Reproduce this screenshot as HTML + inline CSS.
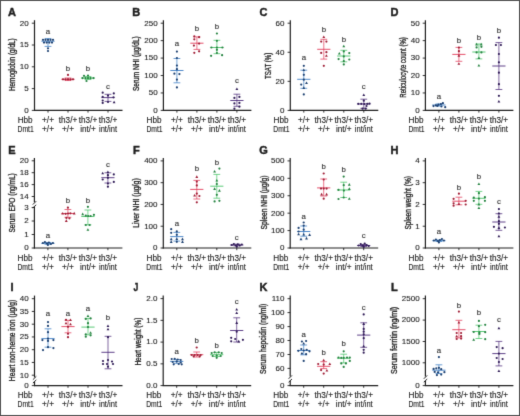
<!DOCTYPE html>
<html><head><meta charset="utf-8"><style>
html,body{margin:0;padding:0;background:#fff;}
svg{display:block;}
text{font-family:"Liberation Sans", sans-serif;fill:#1e1e1e;stroke:#1e1e1e;}
</style></head><body>
<svg width="520" height="416" viewBox="0 0 520 416">
<defs><filter id="bl" x="0" y="0" width="520" height="416" filterUnits="userSpaceOnUse" color-interpolation-filters="sRGB"><feConvolveMatrix order="3" kernelMatrix="0.01134 0.08382 0.01134 0.08382 0.61935 0.08382 0.01134 0.08382 0.01134" edgeMode="duplicate"/></filter></defs>
<g filter="url(#bl)">
<rect width="520" height="416" fill="#fff"/>
<rect x="0.5" y="0.5" width="519" height="415" fill="none" stroke="#505050" stroke-width="1"/>
<text x="12.00" y="15.60" font-size="11.0" text-anchor="middle" font-weight="bold" stroke-width="0.45" fill="#111" stroke="#111">A</text>
<line x1="34.50" y1="20.20" x2="34.50" y2="110.90" stroke="#1e1e1e" stroke-width="1.2"/>
<line x1="33.90" y1="110.40" x2="122.50" y2="110.40" stroke="#1e1e1e" stroke-width="1.2"/>
<line x1="31.80" y1="23.20" x2="34.50" y2="23.20" stroke="#1e1e1e" stroke-width="0.9"/>
<text x="28.70" y="25.55" font-size="8.0" text-anchor="end" font-weight="normal" stroke-width="0.12" >20</text>
<line x1="31.80" y1="45.00" x2="34.50" y2="45.00" stroke="#1e1e1e" stroke-width="0.9"/>
<text x="28.70" y="47.35" font-size="8.0" text-anchor="end" font-weight="normal" stroke-width="0.12" >15</text>
<line x1="31.80" y1="66.80" x2="34.50" y2="66.80" stroke="#1e1e1e" stroke-width="0.9"/>
<text x="28.70" y="69.15" font-size="8.0" text-anchor="end" font-weight="normal" stroke-width="0.12" >10</text>
<line x1="31.80" y1="88.60" x2="34.50" y2="88.60" stroke="#1e1e1e" stroke-width="0.9"/>
<text x="28.70" y="90.95" font-size="8.0" text-anchor="end" font-weight="normal" stroke-width="0.12" >5</text>
<line x1="31.80" y1="110.40" x2="34.50" y2="110.40" stroke="#1e1e1e" stroke-width="0.9"/>
<text x="28.70" y="112.75" font-size="8.0" text-anchor="end" font-weight="normal" stroke-width="0.12" >0</text>
<line x1="48.00" y1="110.40" x2="48.00" y2="112.60" stroke="#1e1e1e" stroke-width="0.9"/>
<line x1="68.00" y1="110.40" x2="68.00" y2="112.60" stroke="#1e1e1e" stroke-width="0.9"/>
<line x1="88.00" y1="110.40" x2="88.00" y2="112.60" stroke="#1e1e1e" stroke-width="0.9"/>
<line x1="108.00" y1="110.40" x2="108.00" y2="112.60" stroke="#1e1e1e" stroke-width="0.9"/>
<text x="32.70" y="123.00" font-size="8.2" text-anchor="end" font-weight="normal" stroke-width="0.12" >Hbb</text>
<text x="33.70" y="132.10" font-size="8.2" text-anchor="end" font-weight="normal" stroke-width="0.12" textLength="16.2" lengthAdjust="spacingAndGlyphs">Dmt1</text>
<text x="48.00" y="123.00" font-size="8.2" text-anchor="middle" font-weight="normal" stroke-width="0.12" >+/+</text>
<text x="48.00" y="132.10" font-size="8.2" text-anchor="middle" font-weight="normal" stroke-width="0.12" >+/+</text>
<text x="68.00" y="123.00" font-size="8.2" text-anchor="middle" font-weight="normal" stroke-width="0.12" >th3/+</text>
<text x="68.00" y="132.10" font-size="8.2" text-anchor="middle" font-weight="normal" stroke-width="0.12" >+/+</text>
<text x="88.00" y="123.00" font-size="8.2" text-anchor="middle" font-weight="normal" stroke-width="0.12" >th3/+</text>
<text x="88.00" y="132.10" font-size="8.2" text-anchor="middle" font-weight="normal" stroke-width="0.12" >int/+</text>
<text x="108.00" y="123.00" font-size="8.2" text-anchor="middle" font-weight="normal" stroke-width="0.12" >th3/+</text>
<text x="108.00" y="132.10" font-size="8.2" text-anchor="middle" font-weight="normal" stroke-width="0.12" textLength="18" lengthAdjust="spacingAndGlyphs">int/int</text>
<text x="0" y="0" font-size="8.2" text-anchor="middle" textLength="52.8" lengthAdjust="spacingAndGlyphs" stroke="#1c1c1c" stroke-width="0.32" transform="translate(15.05,64.70) rotate(-90)">Hemoglobin (g/dL)</text>
<text x="48.00" y="34.25" font-size="7.8" text-anchor="middle" font-weight="normal" stroke-width="0.15" style="fill:#333;stroke:#333">a</text>
<line x1="48.00" y1="38.60" x2="48.00" y2="46.40" stroke="#3a7cc4" stroke-width="0.7"/>
<line x1="44.60" y1="38.60" x2="51.40" y2="38.60" stroke="#3a7cc4" stroke-width="0.75"/>
<line x1="44.60" y1="46.40" x2="51.40" y2="46.40" stroke="#3a7cc4" stroke-width="0.75"/>
<line x1="41.40" y1="41.20" x2="54.60" y2="41.20" stroke="#3a7cc4" stroke-width="0.9"/>
<circle cx="43.00" cy="39.80" r="1.1" fill="#1b3f70"/>
<circle cx="45.50" cy="39.80" r="1.1" fill="#1b3f70"/>
<circle cx="48.00" cy="39.80" r="1.1" fill="#1b3f70"/>
<circle cx="50.50" cy="39.80" r="1.1" fill="#1b3f70"/>
<circle cx="53.00" cy="39.80" r="1.1" fill="#1b3f70"/>
<circle cx="44.00" cy="42.60" r="1.1" fill="#1b3f70"/>
<circle cx="46.70" cy="42.60" r="1.1" fill="#1b3f70"/>
<circle cx="49.30" cy="42.60" r="1.1" fill="#1b3f70"/>
<circle cx="52.00" cy="42.60" r="1.1" fill="#1b3f70"/>
<circle cx="48.00" cy="48.30" r="1.1" fill="#1b3f70"/>
<circle cx="48.00" cy="51.00" r="1.1" fill="#1b3f70"/>
<text x="68.00" y="71.00" font-size="7.8" text-anchor="middle" font-weight="normal" stroke-width="0.15" style="fill:#333;stroke:#333">b</text>
<line x1="68.00" y1="78.00" x2="68.00" y2="80.50" stroke="#e23a58" stroke-width="0.7"/>
<line x1="64.60" y1="78.00" x2="71.40" y2="78.00" stroke="#e23a58" stroke-width="0.75"/>
<line x1="64.60" y1="80.50" x2="71.40" y2="80.50" stroke="#e23a58" stroke-width="0.75"/>
<line x1="61.40" y1="79.30" x2="74.60" y2="79.30" stroke="#e23a58" stroke-width="0.9"/>
<circle cx="68.00" cy="74.90" r="1.1" fill="#a01c34"/>
<circle cx="63.00" cy="79.30" r="1.1" fill="#a01c34"/>
<circle cx="65.50" cy="79.30" r="1.1" fill="#a01c34"/>
<circle cx="68.00" cy="79.30" r="1.1" fill="#a01c34"/>
<circle cx="70.50" cy="79.30" r="1.1" fill="#a01c34"/>
<circle cx="73.00" cy="79.30" r="1.1" fill="#a01c34"/>
<text x="88.00" y="71.00" font-size="7.8" text-anchor="middle" font-weight="normal" stroke-width="0.15" style="fill:#333;stroke:#333">b</text>
<line x1="88.00" y1="76.50" x2="88.00" y2="79.50" stroke="#46c466" stroke-width="0.7"/>
<line x1="84.60" y1="76.50" x2="91.40" y2="76.50" stroke="#46c466" stroke-width="0.75"/>
<line x1="84.60" y1="79.50" x2="91.40" y2="79.50" stroke="#46c466" stroke-width="0.75"/>
<line x1="81.40" y1="78.10" x2="94.60" y2="78.10" stroke="#46c466" stroke-width="0.9"/>
<circle cx="84.00" cy="75.80" r="1.1" fill="#23823f"/>
<circle cx="88.00" cy="75.50" r="1.1" fill="#23823f"/>
<circle cx="82.50" cy="78.10" r="1.1" fill="#23823f"/>
<circle cx="85.50" cy="78.10" r="1.1" fill="#23823f"/>
<circle cx="88.00" cy="78.10" r="1.1" fill="#23823f"/>
<circle cx="90.50" cy="78.10" r="1.1" fill="#23823f"/>
<circle cx="93.50" cy="78.10" r="1.1" fill="#23823f"/>
<circle cx="86.50" cy="81.00" r="1.1" fill="#23823f"/>
<text x="108.00" y="88.85" font-size="7.8" text-anchor="middle" font-weight="normal" stroke-width="0.15" style="fill:#333;stroke:#333">c</text>
<line x1="108.00" y1="94.30" x2="108.00" y2="101.40" stroke="#4c2a7a" stroke-width="0.7"/>
<line x1="104.60" y1="94.30" x2="111.40" y2="94.30" stroke="#4c2a7a" stroke-width="0.75"/>
<line x1="104.60" y1="101.40" x2="111.40" y2="101.40" stroke="#4c2a7a" stroke-width="0.75"/>
<line x1="101.40" y1="97.60" x2="114.60" y2="97.60" stroke="#4c2a7a" stroke-width="0.9"/>
<circle cx="102.70" cy="92.70" r="1.1" fill="#2e1a55"/>
<circle cx="113.80" cy="93.40" r="1.1" fill="#2e1a55"/>
<circle cx="108.00" cy="95.60" r="1.1" fill="#2e1a55"/>
<circle cx="102.70" cy="96.90" r="1.1" fill="#2e1a55"/>
<circle cx="113.50" cy="97.30" r="1.1" fill="#2e1a55"/>
<circle cx="102.70" cy="100.50" r="1.1" fill="#2e1a55"/>
<circle cx="108.00" cy="102.00" r="1.1" fill="#2e1a55"/>
<circle cx="102.70" cy="102.90" r="1.1" fill="#2e1a55"/>
<path d="M114.10 100.70L115.52 103.33L112.67 103.33Z" fill="#2e1a55"/>
<text x="136.30" y="15.60" font-size="11.0" text-anchor="middle" font-weight="bold" stroke-width="0.45" fill="#111" stroke="#111">B</text>
<line x1="163.40" y1="20.20" x2="163.40" y2="110.90" stroke="#1e1e1e" stroke-width="1.2"/>
<line x1="162.80" y1="110.40" x2="251.40" y2="110.40" stroke="#1e1e1e" stroke-width="1.2"/>
<line x1="160.70" y1="23.20" x2="163.40" y2="23.20" stroke="#1e1e1e" stroke-width="0.9"/>
<text x="157.60" y="25.55" font-size="8.0" text-anchor="end" font-weight="normal" stroke-width="0.12" >250</text>
<line x1="160.70" y1="40.64" x2="163.40" y2="40.64" stroke="#1e1e1e" stroke-width="0.9"/>
<text x="157.60" y="42.99" font-size="8.0" text-anchor="end" font-weight="normal" stroke-width="0.12" >200</text>
<line x1="160.70" y1="58.08" x2="163.40" y2="58.08" stroke="#1e1e1e" stroke-width="0.9"/>
<text x="157.60" y="60.43" font-size="8.0" text-anchor="end" font-weight="normal" stroke-width="0.12" >150</text>
<line x1="160.70" y1="75.52" x2="163.40" y2="75.52" stroke="#1e1e1e" stroke-width="0.9"/>
<text x="157.60" y="77.87" font-size="8.0" text-anchor="end" font-weight="normal" stroke-width="0.12" >100</text>
<line x1="160.70" y1="92.96" x2="163.40" y2="92.96" stroke="#1e1e1e" stroke-width="0.9"/>
<text x="157.60" y="95.31" font-size="8.0" text-anchor="end" font-weight="normal" stroke-width="0.12" >50</text>
<line x1="160.70" y1="110.40" x2="163.40" y2="110.40" stroke="#1e1e1e" stroke-width="0.9"/>
<text x="157.60" y="112.75" font-size="8.0" text-anchor="end" font-weight="normal" stroke-width="0.12" >0</text>
<line x1="176.90" y1="110.40" x2="176.90" y2="112.60" stroke="#1e1e1e" stroke-width="0.9"/>
<line x1="196.90" y1="110.40" x2="196.90" y2="112.60" stroke="#1e1e1e" stroke-width="0.9"/>
<line x1="216.90" y1="110.40" x2="216.90" y2="112.60" stroke="#1e1e1e" stroke-width="0.9"/>
<line x1="236.90" y1="110.40" x2="236.90" y2="112.60" stroke="#1e1e1e" stroke-width="0.9"/>
<text x="161.60" y="123.00" font-size="8.2" text-anchor="end" font-weight="normal" stroke-width="0.12" >Hbb</text>
<text x="162.60" y="132.10" font-size="8.2" text-anchor="end" font-weight="normal" stroke-width="0.12" textLength="16.2" lengthAdjust="spacingAndGlyphs">Dmt1</text>
<text x="176.90" y="123.00" font-size="8.2" text-anchor="middle" font-weight="normal" stroke-width="0.12" >+/+</text>
<text x="176.90" y="132.10" font-size="8.2" text-anchor="middle" font-weight="normal" stroke-width="0.12" >+/+</text>
<text x="196.90" y="123.00" font-size="8.2" text-anchor="middle" font-weight="normal" stroke-width="0.12" >th3/+</text>
<text x="196.90" y="132.10" font-size="8.2" text-anchor="middle" font-weight="normal" stroke-width="0.12" >+/+</text>
<text x="216.90" y="123.00" font-size="8.2" text-anchor="middle" font-weight="normal" stroke-width="0.12" >th3/+</text>
<text x="216.90" y="132.10" font-size="8.2" text-anchor="middle" font-weight="normal" stroke-width="0.12" >int/+</text>
<text x="236.90" y="123.00" font-size="8.2" text-anchor="middle" font-weight="normal" stroke-width="0.12" >th3/+</text>
<text x="236.90" y="132.10" font-size="8.2" text-anchor="middle" font-weight="normal" stroke-width="0.12" textLength="18" lengthAdjust="spacingAndGlyphs">int/int</text>
<text x="0" y="0" font-size="8.2" text-anchor="middle" textLength="54.8" lengthAdjust="spacingAndGlyphs" stroke="#1c1c1c" stroke-width="0.32" transform="translate(138.80,63.65) rotate(-90)">Serum NHI (µg/dL)</text>
<text x="176.90" y="46.45" font-size="7.8" text-anchor="middle" font-weight="normal" stroke-width="0.15" style="fill:#333;stroke:#333">a</text>
<line x1="176.90" y1="58.50" x2="176.90" y2="82.80" stroke="#3a7cc4" stroke-width="0.7"/>
<line x1="173.50" y1="58.50" x2="180.30" y2="58.50" stroke="#3a7cc4" stroke-width="0.75"/>
<line x1="173.50" y1="82.80" x2="180.30" y2="82.80" stroke="#3a7cc4" stroke-width="0.75"/>
<line x1="170.30" y1="70.50" x2="183.50" y2="70.50" stroke="#3a7cc4" stroke-width="0.9"/>
<circle cx="176.90" cy="51.60" r="1.1" fill="#1b3f70"/>
<circle cx="176.90" cy="58.00" r="1.1" fill="#1b3f70"/>
<circle cx="176.90" cy="65.50" r="1.1" fill="#1b3f70"/>
<circle cx="176.90" cy="69.20" r="1.1" fill="#1b3f70"/>
<circle cx="174.40" cy="73.70" r="1.1" fill="#1b3f70"/>
<circle cx="179.40" cy="74.10" r="1.1" fill="#1b3f70"/>
<circle cx="176.90" cy="79.60" r="1.1" fill="#1b3f70"/>
<circle cx="176.90" cy="87.40" r="1.1" fill="#1b3f70"/>
<text x="196.90" y="31.40" font-size="7.8" text-anchor="middle" font-weight="normal" stroke-width="0.15" style="fill:#333;stroke:#333">b</text>
<line x1="196.90" y1="36.90" x2="196.90" y2="49.40" stroke="#e23a58" stroke-width="0.7"/>
<line x1="193.50" y1="36.90" x2="200.30" y2="36.90" stroke="#e23a58" stroke-width="0.75"/>
<line x1="193.50" y1="49.40" x2="200.30" y2="49.40" stroke="#e23a58" stroke-width="0.75"/>
<line x1="190.30" y1="43.20" x2="203.50" y2="43.20" stroke="#e23a58" stroke-width="0.9"/>
<circle cx="194.30" cy="36.40" r="1.1" fill="#a01c34"/>
<circle cx="199.10" cy="37.20" r="1.1" fill="#a01c34"/>
<circle cx="194.30" cy="39.30" r="1.1" fill="#a01c34"/>
<circle cx="199.10" cy="43.60" r="1.1" fill="#a01c34"/>
<circle cx="193.90" cy="45.60" r="1.1" fill="#a01c34"/>
<circle cx="194.30" cy="52.80" r="1.1" fill="#a01c34"/>
<circle cx="199.10" cy="51.30" r="1.1" fill="#a01c34"/>
<text x="216.90" y="29.00" font-size="7.8" text-anchor="middle" font-weight="normal" stroke-width="0.15" style="fill:#333;stroke:#333">b</text>
<line x1="216.90" y1="40.30" x2="216.90" y2="53.70" stroke="#46c466" stroke-width="0.7"/>
<line x1="213.50" y1="40.30" x2="220.30" y2="40.30" stroke="#46c466" stroke-width="0.75"/>
<line x1="213.50" y1="53.70" x2="220.30" y2="53.70" stroke="#46c466" stroke-width="0.75"/>
<line x1="210.30" y1="47.50" x2="223.50" y2="47.50" stroke="#46c466" stroke-width="0.9"/>
<circle cx="216.90" cy="33.50" r="1.1" fill="#23823f"/>
<circle cx="216.90" cy="40.80" r="1.1" fill="#23823f"/>
<circle cx="211.40" cy="47.50" r="1.1" fill="#23823f"/>
<circle cx="216.90" cy="47.50" r="1.1" fill="#23823f"/>
<circle cx="222.40" cy="47.50" r="1.1" fill="#23823f"/>
<circle cx="216.90" cy="49.80" r="1.1" fill="#23823f"/>
<circle cx="216.90" cy="53.00" r="1.1" fill="#23823f"/>
<circle cx="211.10" cy="55.80" r="1.1" fill="#23823f"/>
<circle cx="222.10" cy="55.20" r="1.1" fill="#23823f"/>
<text x="236.90" y="83.45" font-size="7.8" text-anchor="middle" font-weight="normal" stroke-width="0.15" style="fill:#333;stroke:#333">c</text>
<line x1="236.90" y1="94.20" x2="236.90" y2="106.30" stroke="#4c2a7a" stroke-width="0.7"/>
<line x1="233.50" y1="94.20" x2="240.30" y2="94.20" stroke="#4c2a7a" stroke-width="0.75"/>
<line x1="233.50" y1="106.30" x2="240.30" y2="106.30" stroke="#4c2a7a" stroke-width="0.75"/>
<line x1="230.30" y1="100.50" x2="243.50" y2="100.50" stroke="#4c2a7a" stroke-width="0.9"/>
<path d="M236.90 87.40L238.33 90.03L235.47 90.03Z" fill="#2e1a55"/>
<circle cx="234.40" cy="97.90" r="1.1" fill="#2e1a55"/>
<circle cx="239.40" cy="96.90" r="1.1" fill="#2e1a55"/>
<circle cx="234.40" cy="103.40" r="1.1" fill="#2e1a55"/>
<circle cx="239.40" cy="102.90" r="1.1" fill="#2e1a55"/>
<circle cx="239.40" cy="106.70" r="1.1" fill="#2e1a55"/>
<circle cx="234.40" cy="108.70" r="1.1" fill="#2e1a55"/>
<text x="263.50" y="15.60" font-size="11.0" text-anchor="middle" font-weight="bold" stroke-width="0.45" fill="#111" stroke="#111">C</text>
<line x1="290.30" y1="20.20" x2="290.30" y2="110.90" stroke="#1e1e1e" stroke-width="1.2"/>
<line x1="289.70" y1="110.40" x2="378.30" y2="110.40" stroke="#1e1e1e" stroke-width="1.2"/>
<line x1="287.60" y1="23.20" x2="290.30" y2="23.20" stroke="#1e1e1e" stroke-width="0.9"/>
<text x="284.50" y="25.55" font-size="8.0" text-anchor="end" font-weight="normal" stroke-width="0.12" >60</text>
<line x1="287.60" y1="52.27" x2="290.30" y2="52.27" stroke="#1e1e1e" stroke-width="0.9"/>
<text x="284.50" y="54.62" font-size="8.0" text-anchor="end" font-weight="normal" stroke-width="0.12" >40</text>
<line x1="287.60" y1="81.33" x2="290.30" y2="81.33" stroke="#1e1e1e" stroke-width="0.9"/>
<text x="284.50" y="83.68" font-size="8.0" text-anchor="end" font-weight="normal" stroke-width="0.12" >20</text>
<line x1="287.60" y1="110.40" x2="290.30" y2="110.40" stroke="#1e1e1e" stroke-width="0.9"/>
<text x="284.50" y="112.75" font-size="8.0" text-anchor="end" font-weight="normal" stroke-width="0.12" >0</text>
<line x1="303.80" y1="110.40" x2="303.80" y2="112.60" stroke="#1e1e1e" stroke-width="0.9"/>
<line x1="323.80" y1="110.40" x2="323.80" y2="112.60" stroke="#1e1e1e" stroke-width="0.9"/>
<line x1="343.80" y1="110.40" x2="343.80" y2="112.60" stroke="#1e1e1e" stroke-width="0.9"/>
<line x1="363.80" y1="110.40" x2="363.80" y2="112.60" stroke="#1e1e1e" stroke-width="0.9"/>
<text x="288.50" y="123.00" font-size="8.2" text-anchor="end" font-weight="normal" stroke-width="0.12" >Hbb</text>
<text x="289.50" y="132.10" font-size="8.2" text-anchor="end" font-weight="normal" stroke-width="0.12" textLength="16.2" lengthAdjust="spacingAndGlyphs">Dmt1</text>
<text x="303.80" y="123.00" font-size="8.2" text-anchor="middle" font-weight="normal" stroke-width="0.12" >+/+</text>
<text x="303.80" y="132.10" font-size="8.2" text-anchor="middle" font-weight="normal" stroke-width="0.12" >+/+</text>
<text x="323.80" y="123.00" font-size="8.2" text-anchor="middle" font-weight="normal" stroke-width="0.12" >th3/+</text>
<text x="323.80" y="132.10" font-size="8.2" text-anchor="middle" font-weight="normal" stroke-width="0.12" >+/+</text>
<text x="343.80" y="123.00" font-size="8.2" text-anchor="middle" font-weight="normal" stroke-width="0.12" >th3/+</text>
<text x="343.80" y="132.10" font-size="8.2" text-anchor="middle" font-weight="normal" stroke-width="0.12" >int/+</text>
<text x="363.80" y="123.00" font-size="8.2" text-anchor="middle" font-weight="normal" stroke-width="0.12" >th3/+</text>
<text x="363.80" y="132.10" font-size="8.2" text-anchor="middle" font-weight="normal" stroke-width="0.12" textLength="18" lengthAdjust="spacingAndGlyphs">int/int</text>
<text x="0" y="0" font-size="8.2" text-anchor="middle" textLength="26.2" lengthAdjust="spacingAndGlyphs" stroke="#1c1c1c" stroke-width="0.32" transform="translate(271.00,65.85) rotate(-90)">TSAT (%)</text>
<text x="303.80" y="60.25" font-size="7.8" text-anchor="middle" font-weight="normal" stroke-width="0.15" style="fill:#333;stroke:#333">a</text>
<line x1="303.80" y1="70.20" x2="303.80" y2="88.30" stroke="#3a7cc4" stroke-width="0.7"/>
<line x1="300.40" y1="70.20" x2="307.20" y2="70.20" stroke="#3a7cc4" stroke-width="0.75"/>
<line x1="300.40" y1="88.30" x2="307.20" y2="88.30" stroke="#3a7cc4" stroke-width="0.75"/>
<line x1="297.20" y1="79.30" x2="310.40" y2="79.30" stroke="#3a7cc4" stroke-width="0.9"/>
<circle cx="303.80" cy="65.80" r="1.1" fill="#1b3f70"/>
<path d="M303.80 68.40L305.23 71.03L302.38 71.03Z" fill="#1b3f70"/>
<circle cx="303.80" cy="74.80" r="1.1" fill="#1b3f70"/>
<circle cx="303.80" cy="79.70" r="1.1" fill="#1b3f70"/>
<path d="M306.50 81.40L307.93 84.03L305.07 84.03Z" fill="#1b3f70"/>
<circle cx="301.20" cy="84.60" r="1.1" fill="#1b3f70"/>
<path d="M303.80 86.30L305.23 88.92L302.38 88.92Z" fill="#1b3f70"/>
<circle cx="303.80" cy="94.40" r="1.1" fill="#1b3f70"/>
<text x="323.80" y="31.60" font-size="7.8" text-anchor="middle" font-weight="normal" stroke-width="0.15" style="fill:#333;stroke:#333">b</text>
<line x1="323.80" y1="39.30" x2="323.80" y2="59.10" stroke="#e23a58" stroke-width="0.7"/>
<line x1="320.40" y1="39.30" x2="327.20" y2="39.30" stroke="#e23a58" stroke-width="0.75"/>
<line x1="320.40" y1="59.10" x2="327.20" y2="59.10" stroke="#e23a58" stroke-width="0.75"/>
<line x1="317.20" y1="49.30" x2="330.40" y2="49.30" stroke="#e23a58" stroke-width="0.9"/>
<path d="M323.80 35.50L325.23 38.12L322.38 38.12Z" fill="#a01c34"/>
<circle cx="321.20" cy="41.60" r="1.1" fill="#a01c34"/>
<circle cx="326.40" cy="41.60" r="1.1" fill="#a01c34"/>
<circle cx="321.20" cy="52.90" r="1.1" fill="#a01c34"/>
<circle cx="326.40" cy="52.20" r="1.1" fill="#a01c34"/>
<path d="M326.40 54.20L327.83 56.83L324.98 56.83Z" fill="#a01c34"/>
<circle cx="323.80" cy="65.80" r="1.1" fill="#a01c34"/>
<text x="343.80" y="42.00" font-size="7.8" text-anchor="middle" font-weight="normal" stroke-width="0.15" style="fill:#333;stroke:#333">b</text>
<line x1="343.80" y1="50.30" x2="343.80" y2="61.80" stroke="#46c466" stroke-width="0.7"/>
<line x1="340.40" y1="50.30" x2="347.20" y2="50.30" stroke="#46c466" stroke-width="0.75"/>
<line x1="340.40" y1="61.80" x2="347.20" y2="61.80" stroke="#46c466" stroke-width="0.75"/>
<line x1="337.20" y1="56.00" x2="350.40" y2="56.00" stroke="#46c466" stroke-width="0.9"/>
<path d="M343.80 44.70L345.23 47.33L342.38 47.33Z" fill="#23823f"/>
<circle cx="343.80" cy="51.40" r="1.1" fill="#23823f"/>
<path d="M339.30 51.90L340.73 54.52L337.88 54.52Z" fill="#23823f"/>
<circle cx="349.30" cy="53.10" r="1.1" fill="#23823f"/>
<circle cx="343.80" cy="56.40" r="1.1" fill="#23823f"/>
<circle cx="338.60" cy="59.10" r="1.1" fill="#23823f"/>
<circle cx="349.30" cy="59.50" r="1.1" fill="#23823f"/>
<circle cx="343.80" cy="61.20" r="1.1" fill="#23823f"/>
<circle cx="343.80" cy="64.40" r="1.1" fill="#23823f"/>
<text x="363.80" y="88.65" font-size="7.8" text-anchor="middle" font-weight="normal" stroke-width="0.15" style="fill:#333;stroke:#333">c</text>
<line x1="363.80" y1="99.20" x2="363.80" y2="108.30" stroke="#4c2a7a" stroke-width="0.7"/>
<line x1="360.40" y1="99.20" x2="367.20" y2="99.20" stroke="#4c2a7a" stroke-width="0.75"/>
<line x1="360.40" y1="108.30" x2="367.20" y2="108.30" stroke="#4c2a7a" stroke-width="0.75"/>
<line x1="357.20" y1="104.00" x2="370.40" y2="104.00" stroke="#4c2a7a" stroke-width="0.9"/>
<path d="M363.80 93.40L365.23 96.03L362.38 96.03Z" fill="#2e1a55"/>
<circle cx="363.80" cy="100.70" r="1.1" fill="#2e1a55"/>
<circle cx="358.30" cy="103.80" r="1.1" fill="#2e1a55"/>
<circle cx="361.30" cy="103.80" r="1.1" fill="#2e1a55"/>
<circle cx="364.30" cy="104.00" r="1.1" fill="#2e1a55"/>
<circle cx="367.30" cy="103.80" r="1.1" fill="#2e1a55"/>
<circle cx="369.50" cy="103.60" r="1.1" fill="#2e1a55"/>
<circle cx="366.50" cy="106.00" r="1.1" fill="#2e1a55"/>
<circle cx="362.60" cy="108.70" r="1.1" fill="#2e1a55"/>
<circle cx="365.60" cy="108.70" r="1.1" fill="#2e1a55"/>
<text x="394.40" y="15.60" font-size="11.0" text-anchor="middle" font-weight="bold" stroke-width="0.45" fill="#111" stroke="#111">D</text>
<line x1="425.40" y1="20.20" x2="425.40" y2="110.90" stroke="#1e1e1e" stroke-width="1.2"/>
<line x1="424.80" y1="110.40" x2="513.40" y2="110.40" stroke="#1e1e1e" stroke-width="1.2"/>
<line x1="422.70" y1="23.20" x2="425.40" y2="23.20" stroke="#1e1e1e" stroke-width="0.9"/>
<text x="419.60" y="25.55" font-size="8.0" text-anchor="end" font-weight="normal" stroke-width="0.12" >50</text>
<line x1="422.70" y1="40.64" x2="425.40" y2="40.64" stroke="#1e1e1e" stroke-width="0.9"/>
<text x="419.60" y="42.99" font-size="8.0" text-anchor="end" font-weight="normal" stroke-width="0.12" >40</text>
<line x1="422.70" y1="58.08" x2="425.40" y2="58.08" stroke="#1e1e1e" stroke-width="0.9"/>
<text x="419.60" y="60.43" font-size="8.0" text-anchor="end" font-weight="normal" stroke-width="0.12" >30</text>
<line x1="422.70" y1="75.52" x2="425.40" y2="75.52" stroke="#1e1e1e" stroke-width="0.9"/>
<text x="419.60" y="77.87" font-size="8.0" text-anchor="end" font-weight="normal" stroke-width="0.12" >20</text>
<line x1="422.70" y1="92.96" x2="425.40" y2="92.96" stroke="#1e1e1e" stroke-width="0.9"/>
<text x="419.60" y="95.31" font-size="8.0" text-anchor="end" font-weight="normal" stroke-width="0.12" >10</text>
<line x1="422.70" y1="110.40" x2="425.40" y2="110.40" stroke="#1e1e1e" stroke-width="0.9"/>
<text x="419.60" y="112.75" font-size="8.0" text-anchor="end" font-weight="normal" stroke-width="0.12" >0</text>
<line x1="438.90" y1="110.40" x2="438.90" y2="112.60" stroke="#1e1e1e" stroke-width="0.9"/>
<line x1="458.90" y1="110.40" x2="458.90" y2="112.60" stroke="#1e1e1e" stroke-width="0.9"/>
<line x1="478.90" y1="110.40" x2="478.90" y2="112.60" stroke="#1e1e1e" stroke-width="0.9"/>
<line x1="498.90" y1="110.40" x2="498.90" y2="112.60" stroke="#1e1e1e" stroke-width="0.9"/>
<text x="423.60" y="123.00" font-size="8.2" text-anchor="end" font-weight="normal" stroke-width="0.12" >Hbb</text>
<text x="424.60" y="132.10" font-size="8.2" text-anchor="end" font-weight="normal" stroke-width="0.12" textLength="16.2" lengthAdjust="spacingAndGlyphs">Dmt1</text>
<text x="438.90" y="123.00" font-size="8.2" text-anchor="middle" font-weight="normal" stroke-width="0.12" >+/+</text>
<text x="438.90" y="132.10" font-size="8.2" text-anchor="middle" font-weight="normal" stroke-width="0.12" >+/+</text>
<text x="458.90" y="123.00" font-size="8.2" text-anchor="middle" font-weight="normal" stroke-width="0.12" >th3/+</text>
<text x="458.90" y="132.10" font-size="8.2" text-anchor="middle" font-weight="normal" stroke-width="0.12" >+/+</text>
<text x="478.90" y="123.00" font-size="8.2" text-anchor="middle" font-weight="normal" stroke-width="0.12" >th3/+</text>
<text x="478.90" y="132.10" font-size="8.2" text-anchor="middle" font-weight="normal" stroke-width="0.12" >int/+</text>
<text x="498.90" y="123.00" font-size="8.2" text-anchor="middle" font-weight="normal" stroke-width="0.12" >th3/+</text>
<text x="498.90" y="132.10" font-size="8.2" text-anchor="middle" font-weight="normal" stroke-width="0.12" textLength="18" lengthAdjust="spacingAndGlyphs">int/int</text>
<text x="0" y="0" font-size="8.2" text-anchor="middle" textLength="60.6" lengthAdjust="spacingAndGlyphs" stroke="#1c1c1c" stroke-width="0.32" transform="translate(406.20,67.40) rotate(-90)">Reticulocyte count (%)</text>
<text x="438.90" y="98.95" font-size="7.8" text-anchor="middle" font-weight="normal" stroke-width="0.15" style="fill:#333;stroke:#333">a</text>
<line x1="438.90" y1="104.00" x2="438.90" y2="106.00" stroke="#3a7cc4" stroke-width="0.7"/>
<line x1="435.50" y1="104.00" x2="442.30" y2="104.00" stroke="#3a7cc4" stroke-width="0.75"/>
<line x1="435.50" y1="106.00" x2="442.30" y2="106.00" stroke="#3a7cc4" stroke-width="0.75"/>
<line x1="432.30" y1="105.00" x2="445.50" y2="105.00" stroke="#3a7cc4" stroke-width="0.9"/>
<circle cx="433.50" cy="106.10" r="1.1" fill="#1b3f70"/>
<circle cx="435.90" cy="105.30" r="1.1" fill="#1b3f70"/>
<circle cx="438.40" cy="104.60" r="1.1" fill="#1b3f70"/>
<circle cx="440.90" cy="104.00" r="1.1" fill="#1b3f70"/>
<circle cx="442.90" cy="103.20" r="1.1" fill="#1b3f70"/>
<circle cx="441.40" cy="106.50" r="1.1" fill="#1b3f70"/>
<circle cx="445.20" cy="107.20" r="1.1" fill="#1b3f70"/>
<circle cx="437.40" cy="106.00" r="1.1" fill="#1b3f70"/>
<text x="458.90" y="43.40" font-size="7.8" text-anchor="middle" font-weight="normal" stroke-width="0.15" style="fill:#333;stroke:#333">b</text>
<line x1="458.90" y1="47.40" x2="458.90" y2="61.30" stroke="#e23a58" stroke-width="0.7"/>
<line x1="455.50" y1="47.40" x2="462.30" y2="47.40" stroke="#e23a58" stroke-width="0.75"/>
<line x1="455.50" y1="61.30" x2="462.30" y2="61.30" stroke="#e23a58" stroke-width="0.75"/>
<line x1="452.30" y1="54.40" x2="465.50" y2="54.40" stroke="#e23a58" stroke-width="0.9"/>
<circle cx="458.90" cy="47.60" r="1.1" fill="#a01c34"/>
<circle cx="458.90" cy="51.20" r="1.1" fill="#a01c34"/>
<path d="M458.90 54.10L460.32 56.73L457.47 56.73Z" fill="#a01c34"/>
<path d="M458.90 62.20L460.32 64.83L457.47 64.83Z" fill="#a01c34"/>
<text x="478.90" y="40.00" font-size="7.8" text-anchor="middle" font-weight="normal" stroke-width="0.15" style="fill:#333;stroke:#333">b</text>
<line x1="478.90" y1="44.00" x2="478.90" y2="58.90" stroke="#46c466" stroke-width="0.7"/>
<line x1="475.50" y1="44.00" x2="482.30" y2="44.00" stroke="#46c466" stroke-width="0.75"/>
<line x1="475.50" y1="58.90" x2="482.30" y2="58.90" stroke="#46c466" stroke-width="0.75"/>
<line x1="472.30" y1="52.00" x2="485.50" y2="52.00" stroke="#46c466" stroke-width="0.9"/>
<path d="M476.60 42.80L478.02 45.42L475.17 45.42Z" fill="#23823f"/>
<path d="M481.20 42.80L482.62 45.42L479.77 45.42Z" fill="#23823f"/>
<circle cx="476.60" cy="47.40" r="1.1" fill="#23823f"/>
<circle cx="481.40" cy="46.80" r="1.1" fill="#23823f"/>
<circle cx="476.60" cy="52.40" r="1.1" fill="#23823f"/>
<circle cx="481.40" cy="52.40" r="1.1" fill="#23823f"/>
<path d="M478.90 56.50L480.32 59.12L477.47 59.12Z" fill="#23823f"/>
<path d="M478.90 64.00L480.32 66.62L477.47 66.62Z" fill="#23823f"/>
<text x="498.90" y="32.60" font-size="7.8" text-anchor="middle" font-weight="normal" stroke-width="0.15" style="fill:#333;stroke:#333">b</text>
<line x1="498.90" y1="42.60" x2="498.90" y2="89.50" stroke="#4c2a7a" stroke-width="0.7"/>
<line x1="495.50" y1="42.60" x2="502.30" y2="42.60" stroke="#4c2a7a" stroke-width="0.75"/>
<line x1="495.50" y1="89.50" x2="502.30" y2="89.50" stroke="#4c2a7a" stroke-width="0.75"/>
<line x1="492.30" y1="66.00" x2="505.50" y2="66.00" stroke="#4c2a7a" stroke-width="0.9"/>
<circle cx="498.90" cy="37.70" r="1.1" fill="#2e1a55"/>
<circle cx="495.90" cy="45.00" r="1.1" fill="#2e1a55"/>
<circle cx="500.90" cy="45.00" r="1.1" fill="#2e1a55"/>
<circle cx="498.90" cy="54.00" r="1.1" fill="#2e1a55"/>
<circle cx="498.90" cy="62.30" r="1.1" fill="#2e1a55"/>
<circle cx="498.90" cy="72.70" r="1.1" fill="#2e1a55"/>
<circle cx="498.90" cy="84.20" r="1.1" fill="#2e1a55"/>
<circle cx="498.90" cy="95.80" r="1.1" fill="#2e1a55"/>
<path d="M498.90 100.00L500.32 102.62L497.47 102.62Z" fill="#2e1a55"/>
<text x="12.00" y="153.50" font-size="11.0" text-anchor="middle" font-weight="bold" stroke-width="0.45" fill="#111" stroke="#111">E</text>
<line x1="34.40" y1="157.90" x2="34.40" y2="202.30" stroke="#1e1e1e" stroke-width="1.2"/>
<line x1="34.40" y1="206.50" x2="34.40" y2="248.50" stroke="#1e1e1e" stroke-width="1.2"/>
<line x1="32.80" y1="204.60" x2="36.20" y2="201.20" stroke="#1e1e1e" stroke-width="1.0"/>
<line x1="32.80" y1="208.00" x2="36.20" y2="204.80" stroke="#1e1e1e" stroke-width="1.0"/>
<line x1="33.80" y1="248.00" x2="122.40" y2="248.00" stroke="#1e1e1e" stroke-width="1.2"/>
<line x1="31.70" y1="160.80" x2="34.40" y2="160.80" stroke="#1e1e1e" stroke-width="0.9"/>
<text x="28.60" y="163.15" font-size="8.0" text-anchor="end" font-weight="normal" stroke-width="0.12" >20</text>
<line x1="31.70" y1="172.70" x2="34.40" y2="172.70" stroke="#1e1e1e" stroke-width="0.9"/>
<text x="28.60" y="175.05" font-size="8.0" text-anchor="end" font-weight="normal" stroke-width="0.12" >18</text>
<line x1="31.70" y1="184.60" x2="34.40" y2="184.60" stroke="#1e1e1e" stroke-width="0.9"/>
<text x="28.60" y="186.95" font-size="8.0" text-anchor="end" font-weight="normal" stroke-width="0.12" >16</text>
<line x1="31.70" y1="196.50" x2="34.40" y2="196.50" stroke="#1e1e1e" stroke-width="0.9"/>
<text x="28.60" y="198.85" font-size="8.0" text-anchor="end" font-weight="normal" stroke-width="0.12" >14</text>
<line x1="31.70" y1="207.50" x2="34.40" y2="207.50" stroke="#1e1e1e" stroke-width="0.9"/>
<text x="28.60" y="209.85" font-size="8.0" text-anchor="end" font-weight="normal" stroke-width="0.12" >3</text>
<line x1="31.70" y1="221.00" x2="34.40" y2="221.00" stroke="#1e1e1e" stroke-width="0.9"/>
<text x="28.60" y="223.35" font-size="8.0" text-anchor="end" font-weight="normal" stroke-width="0.12" >2</text>
<line x1="31.70" y1="234.50" x2="34.40" y2="234.50" stroke="#1e1e1e" stroke-width="0.9"/>
<text x="28.60" y="236.85" font-size="8.0" text-anchor="end" font-weight="normal" stroke-width="0.12" >1</text>
<line x1="31.70" y1="248.00" x2="34.40" y2="248.00" stroke="#1e1e1e" stroke-width="0.9"/>
<text x="28.60" y="250.35" font-size="8.0" text-anchor="end" font-weight="normal" stroke-width="0.12" >0</text>
<line x1="47.90" y1="248.00" x2="47.90" y2="250.20" stroke="#1e1e1e" stroke-width="0.9"/>
<line x1="67.90" y1="248.00" x2="67.90" y2="250.20" stroke="#1e1e1e" stroke-width="0.9"/>
<line x1="87.90" y1="248.00" x2="87.90" y2="250.20" stroke="#1e1e1e" stroke-width="0.9"/>
<line x1="107.90" y1="248.00" x2="107.90" y2="250.20" stroke="#1e1e1e" stroke-width="0.9"/>
<text x="32.60" y="260.60" font-size="8.2" text-anchor="end" font-weight="normal" stroke-width="0.12" >Hbb</text>
<text x="33.60" y="269.70" font-size="8.2" text-anchor="end" font-weight="normal" stroke-width="0.12" textLength="16.2" lengthAdjust="spacingAndGlyphs">Dmt1</text>
<text x="47.90" y="260.60" font-size="8.2" text-anchor="middle" font-weight="normal" stroke-width="0.12" >+/+</text>
<text x="47.90" y="269.70" font-size="8.2" text-anchor="middle" font-weight="normal" stroke-width="0.12" >+/+</text>
<text x="67.90" y="260.60" font-size="8.2" text-anchor="middle" font-weight="normal" stroke-width="0.12" >th3/+</text>
<text x="67.90" y="269.70" font-size="8.2" text-anchor="middle" font-weight="normal" stroke-width="0.12" >+/+</text>
<text x="87.90" y="260.60" font-size="8.2" text-anchor="middle" font-weight="normal" stroke-width="0.12" >th3/+</text>
<text x="87.90" y="269.70" font-size="8.2" text-anchor="middle" font-weight="normal" stroke-width="0.12" >int/+</text>
<text x="107.90" y="260.60" font-size="8.2" text-anchor="middle" font-weight="normal" stroke-width="0.12" >th3/+</text>
<text x="107.90" y="269.70" font-size="8.2" text-anchor="middle" font-weight="normal" stroke-width="0.12" textLength="18" lengthAdjust="spacingAndGlyphs">int/int</text>
<text x="0" y="0" font-size="8.2" text-anchor="middle" textLength="59.3" lengthAdjust="spacingAndGlyphs" stroke="#1c1c1c" stroke-width="0.32" transform="translate(15.05,202.90) rotate(-90)">Serum EPO (ng/mL)</text>
<text x="47.90" y="237.85" font-size="7.8" text-anchor="middle" font-weight="normal" stroke-width="0.15" style="fill:#333;stroke:#333">a</text>
<line x1="47.90" y1="242.50" x2="47.90" y2="244.30" stroke="#3a7cc4" stroke-width="0.7"/>
<line x1="44.50" y1="242.50" x2="51.30" y2="242.50" stroke="#3a7cc4" stroke-width="0.75"/>
<line x1="44.50" y1="244.30" x2="51.30" y2="244.30" stroke="#3a7cc4" stroke-width="0.75"/>
<line x1="41.30" y1="243.40" x2="54.50" y2="243.40" stroke="#3a7cc4" stroke-width="0.9"/>
<circle cx="42.90" cy="243.00" r="1.1" fill="#1b3f70"/>
<circle cx="44.90" cy="242.00" r="1.1" fill="#1b3f70"/>
<circle cx="46.90" cy="243.50" r="1.1" fill="#1b3f70"/>
<circle cx="48.90" cy="242.50" r="1.1" fill="#1b3f70"/>
<circle cx="50.90" cy="244.00" r="1.1" fill="#1b3f70"/>
<circle cx="52.90" cy="243.00" r="1.1" fill="#1b3f70"/>
<circle cx="47.90" cy="245.00" r="1.1" fill="#1b3f70"/>
<text x="67.90" y="203.00" font-size="7.8" text-anchor="middle" font-weight="normal" stroke-width="0.15" style="fill:#333;stroke:#333">b</text>
<line x1="67.90" y1="209.50" x2="67.90" y2="217.30" stroke="#e23a58" stroke-width="0.7"/>
<line x1="64.50" y1="209.50" x2="71.30" y2="209.50" stroke="#e23a58" stroke-width="0.75"/>
<line x1="64.50" y1="217.30" x2="71.30" y2="217.30" stroke="#e23a58" stroke-width="0.75"/>
<line x1="61.30" y1="213.50" x2="74.50" y2="213.50" stroke="#e23a58" stroke-width="0.9"/>
<circle cx="67.90" cy="207.70" r="1.1" fill="#a01c34"/>
<path d="M62.70 212.00L64.12 214.62L61.28 214.62Z" fill="#a01c34"/>
<circle cx="65.60" cy="213.80" r="1.1" fill="#a01c34"/>
<circle cx="68.10" cy="213.50" r="1.1" fill="#a01c34"/>
<circle cx="70.40" cy="213.30" r="1.1" fill="#a01c34"/>
<path d="M74.20 211.80L75.62 214.43L72.78 214.43Z" fill="#a01c34"/>
<circle cx="69.40" cy="218.30" r="1.1" fill="#a01c34"/>
<circle cx="66.40" cy="217.90" r="1.1" fill="#a01c34"/>
<path d="M66.30 219.30L67.73 221.93L64.88 221.93Z" fill="#a01c34"/>
<text x="87.90" y="203.00" font-size="7.8" text-anchor="middle" font-weight="normal" stroke-width="0.15" style="fill:#333;stroke:#333">b</text>
<line x1="87.90" y1="210.00" x2="87.90" y2="224.80" stroke="#46c466" stroke-width="0.7"/>
<line x1="84.50" y1="210.00" x2="91.30" y2="210.00" stroke="#46c466" stroke-width="0.75"/>
<line x1="84.50" y1="224.80" x2="91.30" y2="224.80" stroke="#46c466" stroke-width="0.75"/>
<line x1="81.30" y1="216.50" x2="94.50" y2="216.50" stroke="#46c466" stroke-width="0.9"/>
<circle cx="87.90" cy="206.80" r="1.1" fill="#23823f"/>
<path d="M82.70 212.60L84.12 215.22L81.28 215.22Z" fill="#23823f"/>
<circle cx="85.80" cy="215.70" r="1.1" fill="#23823f"/>
<circle cx="88.20" cy="216.00" r="1.1" fill="#23823f"/>
<circle cx="90.60" cy="216.00" r="1.1" fill="#23823f"/>
<circle cx="93.90" cy="214.80" r="1.1" fill="#23823f"/>
<circle cx="85.80" cy="225.00" r="1.1" fill="#23823f"/>
<circle cx="89.60" cy="225.00" r="1.1" fill="#23823f"/>
<path d="M87.90 228.20L89.33 230.82L86.48 230.82Z" fill="#23823f"/>
<text x="107.90" y="166.95" font-size="7.8" text-anchor="middle" font-weight="normal" stroke-width="0.15" style="fill:#333;stroke:#333">c</text>
<line x1="107.90" y1="172.80" x2="107.90" y2="183.00" stroke="#4c2a7a" stroke-width="0.7"/>
<line x1="104.50" y1="172.80" x2="111.30" y2="172.80" stroke="#4c2a7a" stroke-width="0.75"/>
<line x1="104.50" y1="183.00" x2="111.30" y2="183.00" stroke="#4c2a7a" stroke-width="0.75"/>
<line x1="101.30" y1="177.70" x2="114.50" y2="177.70" stroke="#4c2a7a" stroke-width="0.9"/>
<path d="M107.90 170.40L109.33 173.03L106.48 173.03Z" fill="#2e1a55"/>
<path d="M102.70 171.70L104.12 174.32L101.28 174.32Z" fill="#2e1a55"/>
<circle cx="113.80" cy="174.40" r="1.1" fill="#2e1a55"/>
<circle cx="107.90" cy="175.20" r="1.1" fill="#2e1a55"/>
<circle cx="107.90" cy="177.80" r="1.1" fill="#2e1a55"/>
<circle cx="102.70" cy="179.50" r="1.1" fill="#2e1a55"/>
<circle cx="113.80" cy="181.90" r="1.1" fill="#2e1a55"/>
<circle cx="107.90" cy="183.60" r="1.1" fill="#2e1a55"/>
<circle cx="107.90" cy="186.70" r="1.1" fill="#2e1a55"/>
<text x="136.30" y="153.50" font-size="11.0" text-anchor="middle" font-weight="bold" stroke-width="0.45" fill="#111" stroke="#111">F</text>
<line x1="163.30" y1="157.90" x2="163.30" y2="248.50" stroke="#1e1e1e" stroke-width="1.2"/>
<line x1="162.70" y1="248.00" x2="251.30" y2="248.00" stroke="#1e1e1e" stroke-width="1.2"/>
<line x1="160.60" y1="160.90" x2="163.30" y2="160.90" stroke="#1e1e1e" stroke-width="0.9"/>
<text x="157.50" y="163.25" font-size="8.0" text-anchor="end" font-weight="normal" stroke-width="0.12" >400</text>
<line x1="160.60" y1="182.68" x2="163.30" y2="182.68" stroke="#1e1e1e" stroke-width="0.9"/>
<text x="157.50" y="185.03" font-size="8.0" text-anchor="end" font-weight="normal" stroke-width="0.12" >300</text>
<line x1="160.60" y1="204.45" x2="163.30" y2="204.45" stroke="#1e1e1e" stroke-width="0.9"/>
<text x="157.50" y="206.80" font-size="8.0" text-anchor="end" font-weight="normal" stroke-width="0.12" >200</text>
<line x1="160.60" y1="226.22" x2="163.30" y2="226.22" stroke="#1e1e1e" stroke-width="0.9"/>
<text x="157.50" y="228.57" font-size="8.0" text-anchor="end" font-weight="normal" stroke-width="0.12" >100</text>
<line x1="160.60" y1="248.00" x2="163.30" y2="248.00" stroke="#1e1e1e" stroke-width="0.9"/>
<text x="157.50" y="250.35" font-size="8.0" text-anchor="end" font-weight="normal" stroke-width="0.12" >0</text>
<line x1="176.80" y1="248.00" x2="176.80" y2="250.20" stroke="#1e1e1e" stroke-width="0.9"/>
<line x1="196.80" y1="248.00" x2="196.80" y2="250.20" stroke="#1e1e1e" stroke-width="0.9"/>
<line x1="216.80" y1="248.00" x2="216.80" y2="250.20" stroke="#1e1e1e" stroke-width="0.9"/>
<line x1="236.80" y1="248.00" x2="236.80" y2="250.20" stroke="#1e1e1e" stroke-width="0.9"/>
<text x="161.50" y="260.60" font-size="8.2" text-anchor="end" font-weight="normal" stroke-width="0.12" >Hbb</text>
<text x="162.50" y="269.70" font-size="8.2" text-anchor="end" font-weight="normal" stroke-width="0.12" textLength="16.2" lengthAdjust="spacingAndGlyphs">Dmt1</text>
<text x="176.80" y="260.60" font-size="8.2" text-anchor="middle" font-weight="normal" stroke-width="0.12" >+/+</text>
<text x="176.80" y="269.70" font-size="8.2" text-anchor="middle" font-weight="normal" stroke-width="0.12" >+/+</text>
<text x="196.80" y="260.60" font-size="8.2" text-anchor="middle" font-weight="normal" stroke-width="0.12" >th3/+</text>
<text x="196.80" y="269.70" font-size="8.2" text-anchor="middle" font-weight="normal" stroke-width="0.12" >+/+</text>
<text x="216.80" y="260.60" font-size="8.2" text-anchor="middle" font-weight="normal" stroke-width="0.12" >th3/+</text>
<text x="216.80" y="269.70" font-size="8.2" text-anchor="middle" font-weight="normal" stroke-width="0.12" >int/+</text>
<text x="236.80" y="260.60" font-size="8.2" text-anchor="middle" font-weight="normal" stroke-width="0.12" >th3/+</text>
<text x="236.80" y="269.70" font-size="8.2" text-anchor="middle" font-weight="normal" stroke-width="0.12" textLength="18" lengthAdjust="spacingAndGlyphs">int/int</text>
<text x="0" y="0" font-size="8.2" text-anchor="middle" textLength="49.6" lengthAdjust="spacingAndGlyphs" stroke="#1c1c1c" stroke-width="0.32" transform="translate(139.30,203.00) rotate(-90)">Liver NHI (µg/g)</text>
<text x="176.80" y="226.05" font-size="7.8" text-anchor="middle" font-weight="normal" stroke-width="0.15" style="fill:#333;stroke:#333">a</text>
<line x1="176.80" y1="232.40" x2="176.80" y2="241.10" stroke="#3a7cc4" stroke-width="0.7"/>
<line x1="173.40" y1="232.40" x2="180.20" y2="232.40" stroke="#3a7cc4" stroke-width="0.75"/>
<line x1="173.40" y1="241.10" x2="180.20" y2="241.10" stroke="#3a7cc4" stroke-width="0.75"/>
<line x1="170.20" y1="236.60" x2="183.40" y2="236.60" stroke="#3a7cc4" stroke-width="0.9"/>
<circle cx="171.20" cy="229.20" r="1.1" fill="#1b3f70"/>
<circle cx="171.20" cy="232.80" r="1.1" fill="#1b3f70"/>
<circle cx="176.80" cy="231.40" r="1.1" fill="#1b3f70"/>
<circle cx="176.80" cy="234.80" r="1.1" fill="#1b3f70"/>
<path d="M171.20 237.60L172.63 240.22L169.78 240.22Z" fill="#1b3f70"/>
<path d="M176.80 237.50L178.23 240.12L175.38 240.12Z" fill="#1b3f70"/>
<path d="M182.50 237.60L183.93 240.22L181.07 240.22Z" fill="#1b3f70"/>
<path d="M171.20 240.30L172.63 242.93L169.78 242.93Z" fill="#1b3f70"/>
<circle cx="176.80" cy="241.80" r="1.1" fill="#1b3f70"/>
<path d="M182.50 240.30L183.93 242.93L181.07 242.93Z" fill="#1b3f70"/>
<text x="196.80" y="171.30" font-size="7.8" text-anchor="middle" font-weight="normal" stroke-width="0.15" style="fill:#333;stroke:#333">b</text>
<line x1="196.80" y1="180.40" x2="196.80" y2="199.00" stroke="#e23a58" stroke-width="0.7"/>
<line x1="193.40" y1="180.40" x2="200.20" y2="180.40" stroke="#e23a58" stroke-width="0.75"/>
<line x1="193.40" y1="199.00" x2="200.20" y2="199.00" stroke="#e23a58" stroke-width="0.75"/>
<line x1="190.20" y1="189.40" x2="203.40" y2="189.40" stroke="#e23a58" stroke-width="0.9"/>
<path d="M196.80 175.30L198.23 177.93L195.38 177.93Z" fill="#a01c34"/>
<circle cx="196.80" cy="181.60" r="1.1" fill="#a01c34"/>
<circle cx="196.80" cy="185.40" r="1.1" fill="#a01c34"/>
<circle cx="196.80" cy="193.60" r="1.1" fill="#a01c34"/>
<path d="M194.60 193.90L196.03 196.53L193.18 196.53Z" fill="#a01c34"/>
<circle cx="199.40" cy="196.00" r="1.1" fill="#a01c34"/>
<circle cx="196.80" cy="202.30" r="1.1" fill="#a01c34"/>
<text x="216.80" y="165.10" font-size="7.8" text-anchor="middle" font-weight="normal" stroke-width="0.15" style="fill:#333;stroke:#333">b</text>
<line x1="216.80" y1="174.40" x2="216.80" y2="198.20" stroke="#46c466" stroke-width="0.7"/>
<line x1="213.40" y1="174.40" x2="220.20" y2="174.40" stroke="#46c466" stroke-width="0.75"/>
<line x1="213.40" y1="198.20" x2="220.20" y2="198.20" stroke="#46c466" stroke-width="0.75"/>
<line x1="210.20" y1="186.20" x2="223.40" y2="186.20" stroke="#46c466" stroke-width="0.9"/>
<path d="M214.60 169.90L216.03 172.53L213.18 172.53Z" fill="#23823f"/>
<circle cx="219.40" cy="168.60" r="1.1" fill="#23823f"/>
<path d="M216.80 178.90L218.23 181.53L215.38 181.53Z" fill="#23823f"/>
<circle cx="216.80" cy="184.00" r="1.1" fill="#23823f"/>
<path d="M214.60 187.30L216.03 189.93L213.18 189.93Z" fill="#23823f"/>
<path d="M219.40 189.10L220.83 191.72L217.97 191.72Z" fill="#23823f"/>
<circle cx="216.80" cy="194.80" r="1.1" fill="#23823f"/>
<circle cx="214.60" cy="201.40" r="1.1" fill="#23823f"/>
<circle cx="219.40" cy="200.80" r="1.1" fill="#23823f"/>
<text x="236.80" y="239.55" font-size="7.8" text-anchor="middle" font-weight="normal" stroke-width="0.15" style="fill:#333;stroke:#333">c</text>
<line x1="236.80" y1="244.20" x2="236.80" y2="245.80" stroke="#4c2a7a" stroke-width="0.7"/>
<line x1="233.40" y1="244.20" x2="240.20" y2="244.20" stroke="#4c2a7a" stroke-width="0.75"/>
<line x1="233.40" y1="245.80" x2="240.20" y2="245.80" stroke="#4c2a7a" stroke-width="0.75"/>
<line x1="230.20" y1="245.00" x2="243.40" y2="245.00" stroke="#4c2a7a" stroke-width="0.9"/>
<circle cx="231.80" cy="245.00" r="1.1" fill="#2e1a55"/>
<circle cx="233.80" cy="244.00" r="1.1" fill="#2e1a55"/>
<circle cx="235.80" cy="245.50" r="1.1" fill="#2e1a55"/>
<circle cx="237.80" cy="244.30" r="1.1" fill="#2e1a55"/>
<circle cx="239.80" cy="245.50" r="1.1" fill="#2e1a55"/>
<circle cx="241.80" cy="244.50" r="1.1" fill="#2e1a55"/>
<circle cx="236.80" cy="246.80" r="1.1" fill="#2e1a55"/>
<text x="263.50" y="153.50" font-size="11.0" text-anchor="middle" font-weight="bold" stroke-width="0.45" fill="#111" stroke="#111">G</text>
<line x1="290.20" y1="157.90" x2="290.20" y2="248.50" stroke="#1e1e1e" stroke-width="1.2"/>
<line x1="289.60" y1="248.00" x2="378.20" y2="248.00" stroke="#1e1e1e" stroke-width="1.2"/>
<line x1="287.50" y1="160.90" x2="290.20" y2="160.90" stroke="#1e1e1e" stroke-width="0.9"/>
<text x="284.40" y="163.25" font-size="8.0" text-anchor="end" font-weight="normal" stroke-width="0.12" >500</text>
<line x1="287.50" y1="178.32" x2="290.20" y2="178.32" stroke="#1e1e1e" stroke-width="0.9"/>
<text x="284.40" y="180.67" font-size="8.0" text-anchor="end" font-weight="normal" stroke-width="0.12" >400</text>
<line x1="287.50" y1="195.74" x2="290.20" y2="195.74" stroke="#1e1e1e" stroke-width="0.9"/>
<text x="284.40" y="198.09" font-size="8.0" text-anchor="end" font-weight="normal" stroke-width="0.12" >300</text>
<line x1="287.50" y1="213.16" x2="290.20" y2="213.16" stroke="#1e1e1e" stroke-width="0.9"/>
<text x="284.40" y="215.51" font-size="8.0" text-anchor="end" font-weight="normal" stroke-width="0.12" >200</text>
<line x1="287.50" y1="230.58" x2="290.20" y2="230.58" stroke="#1e1e1e" stroke-width="0.9"/>
<text x="284.40" y="232.93" font-size="8.0" text-anchor="end" font-weight="normal" stroke-width="0.12" >100</text>
<line x1="287.50" y1="248.00" x2="290.20" y2="248.00" stroke="#1e1e1e" stroke-width="0.9"/>
<text x="284.40" y="250.35" font-size="8.0" text-anchor="end" font-weight="normal" stroke-width="0.12" >0</text>
<line x1="303.70" y1="248.00" x2="303.70" y2="250.20" stroke="#1e1e1e" stroke-width="0.9"/>
<line x1="323.70" y1="248.00" x2="323.70" y2="250.20" stroke="#1e1e1e" stroke-width="0.9"/>
<line x1="343.70" y1="248.00" x2="343.70" y2="250.20" stroke="#1e1e1e" stroke-width="0.9"/>
<line x1="363.70" y1="248.00" x2="363.70" y2="250.20" stroke="#1e1e1e" stroke-width="0.9"/>
<text x="288.40" y="260.60" font-size="8.2" text-anchor="end" font-weight="normal" stroke-width="0.12" >Hbb</text>
<text x="289.40" y="269.70" font-size="8.2" text-anchor="end" font-weight="normal" stroke-width="0.12" textLength="16.2" lengthAdjust="spacingAndGlyphs">Dmt1</text>
<text x="303.70" y="260.60" font-size="8.2" text-anchor="middle" font-weight="normal" stroke-width="0.12" >+/+</text>
<text x="303.70" y="269.70" font-size="8.2" text-anchor="middle" font-weight="normal" stroke-width="0.12" >+/+</text>
<text x="323.70" y="260.60" font-size="8.2" text-anchor="middle" font-weight="normal" stroke-width="0.12" >th3/+</text>
<text x="323.70" y="269.70" font-size="8.2" text-anchor="middle" font-weight="normal" stroke-width="0.12" >+/+</text>
<text x="343.70" y="260.60" font-size="8.2" text-anchor="middle" font-weight="normal" stroke-width="0.12" >th3/+</text>
<text x="343.70" y="269.70" font-size="8.2" text-anchor="middle" font-weight="normal" stroke-width="0.12" >int/+</text>
<text x="363.70" y="260.60" font-size="8.2" text-anchor="middle" font-weight="normal" stroke-width="0.12" >th3/+</text>
<text x="363.70" y="269.70" font-size="8.2" text-anchor="middle" font-weight="normal" stroke-width="0.12" textLength="18" lengthAdjust="spacingAndGlyphs">int/int</text>
<text x="0" y="0" font-size="8.2" text-anchor="middle" textLength="54.0" lengthAdjust="spacingAndGlyphs" stroke="#1c1c1c" stroke-width="0.32" transform="translate(266.50,202.50) rotate(-90)">Spleen NHI (µg/g)</text>
<text x="303.70" y="218.55" font-size="7.8" text-anchor="middle" font-weight="normal" stroke-width="0.15" style="fill:#333;stroke:#333">a</text>
<line x1="303.70" y1="226.00" x2="303.70" y2="236.20" stroke="#3a7cc4" stroke-width="0.7"/>
<line x1="300.30" y1="226.00" x2="307.10" y2="226.00" stroke="#3a7cc4" stroke-width="0.75"/>
<line x1="300.30" y1="236.20" x2="307.10" y2="236.20" stroke="#3a7cc4" stroke-width="0.75"/>
<line x1="297.10" y1="231.50" x2="310.30" y2="231.50" stroke="#3a7cc4" stroke-width="0.9"/>
<circle cx="303.70" cy="222.50" r="1.1" fill="#1b3f70"/>
<circle cx="303.70" cy="225.60" r="1.1" fill="#1b3f70"/>
<circle cx="298.60" cy="227.90" r="1.1" fill="#1b3f70"/>
<circle cx="303.70" cy="229.70" r="1.1" fill="#1b3f70"/>
<circle cx="298.60" cy="231.50" r="1.1" fill="#1b3f70"/>
<path d="M298.60 232.70L300.02 235.32L297.17 235.32Z" fill="#1b3f70"/>
<path d="M303.70 232.90L305.12 235.53L302.27 235.53Z" fill="#1b3f70"/>
<path d="M309.60 233.30L311.02 235.93L308.17 235.93Z" fill="#1b3f70"/>
<path d="M301.00 237.60L302.43 240.22L299.57 240.22Z" fill="#1b3f70"/>
<path d="M306.50 236.80L307.93 239.43L305.07 239.43Z" fill="#1b3f70"/>
<text x="323.70" y="169.30" font-size="7.8" text-anchor="middle" font-weight="normal" stroke-width="0.15" style="fill:#333;stroke:#333">b</text>
<line x1="323.70" y1="179.00" x2="323.70" y2="196.00" stroke="#e23a58" stroke-width="0.7"/>
<line x1="320.30" y1="179.00" x2="327.10" y2="179.00" stroke="#e23a58" stroke-width="0.75"/>
<line x1="320.30" y1="196.00" x2="327.10" y2="196.00" stroke="#e23a58" stroke-width="0.75"/>
<line x1="317.10" y1="187.90" x2="330.30" y2="187.90" stroke="#e23a58" stroke-width="0.9"/>
<circle cx="323.70" cy="173.50" r="1.1" fill="#a01c34"/>
<circle cx="323.70" cy="179.50" r="1.1" fill="#a01c34"/>
<circle cx="321.00" cy="188.60" r="1.1" fill="#a01c34"/>
<circle cx="323.70" cy="188.60" r="1.1" fill="#a01c34"/>
<circle cx="326.60" cy="188.60" r="1.1" fill="#a01c34"/>
<path d="M321.60 192.80L323.02 195.43L320.17 195.43Z" fill="#a01c34"/>
<path d="M326.60 192.80L328.02 195.43L325.17 195.43Z" fill="#a01c34"/>
<circle cx="323.70" cy="198.70" r="1.1" fill="#a01c34"/>
<text x="343.70" y="172.30" font-size="7.8" text-anchor="middle" font-weight="normal" stroke-width="0.15" style="fill:#333;stroke:#333">b</text>
<line x1="343.70" y1="182.20" x2="343.70" y2="197.50" stroke="#46c466" stroke-width="0.7"/>
<line x1="340.30" y1="182.20" x2="347.10" y2="182.20" stroke="#46c466" stroke-width="0.75"/>
<line x1="340.30" y1="197.50" x2="347.10" y2="197.50" stroke="#46c466" stroke-width="0.75"/>
<line x1="337.10" y1="190.00" x2="350.30" y2="190.00" stroke="#46c466" stroke-width="0.9"/>
<circle cx="343.70" cy="176.60" r="1.1" fill="#23823f"/>
<circle cx="343.70" cy="185.20" r="1.1" fill="#23823f"/>
<path d="M349.30 183.10L350.73 185.72L347.88 185.72Z" fill="#23823f"/>
<circle cx="338.50" cy="189.80" r="1.1" fill="#23823f"/>
<circle cx="343.90" cy="190.60" r="1.1" fill="#23823f"/>
<path d="M349.30 187.30L350.73 189.93L347.88 189.93Z" fill="#23823f"/>
<circle cx="338.50" cy="199.00" r="1.1" fill="#23823f"/>
<circle cx="343.70" cy="197.50" r="1.1" fill="#23823f"/>
<path d="M349.30 197.20L350.73 199.82L347.88 199.82Z" fill="#23823f"/>
<text x="363.70" y="237.85" font-size="7.8" text-anchor="middle" font-weight="normal" stroke-width="0.15" style="fill:#333;stroke:#333">c</text>
<line x1="363.70" y1="244.50" x2="363.70" y2="246.50" stroke="#4c2a7a" stroke-width="0.7"/>
<line x1="360.30" y1="244.50" x2="367.10" y2="244.50" stroke="#4c2a7a" stroke-width="0.75"/>
<line x1="360.30" y1="246.50" x2="367.10" y2="246.50" stroke="#4c2a7a" stroke-width="0.75"/>
<line x1="357.10" y1="245.50" x2="370.30" y2="245.50" stroke="#4c2a7a" stroke-width="0.9"/>
<circle cx="358.70" cy="245.50" r="1.1" fill="#2e1a55"/>
<circle cx="360.70" cy="244.00" r="1.1" fill="#2e1a55"/>
<circle cx="362.70" cy="245.50" r="1.1" fill="#2e1a55"/>
<circle cx="364.70" cy="243.50" r="1.1" fill="#2e1a55"/>
<circle cx="366.70" cy="245.00" r="1.1" fill="#2e1a55"/>
<circle cx="368.70" cy="246.00" r="1.1" fill="#2e1a55"/>
<circle cx="363.70" cy="247.00" r="1.1" fill="#2e1a55"/>
<text x="394.40" y="153.50" font-size="11.0" text-anchor="middle" font-weight="bold" stroke-width="0.45" fill="#111" stroke="#111">H</text>
<line x1="425.40" y1="157.90" x2="425.40" y2="248.50" stroke="#1e1e1e" stroke-width="1.2"/>
<line x1="424.80" y1="248.00" x2="513.40" y2="248.00" stroke="#1e1e1e" stroke-width="1.2"/>
<line x1="422.70" y1="160.90" x2="425.40" y2="160.90" stroke="#1e1e1e" stroke-width="0.9"/>
<text x="419.60" y="163.25" font-size="8.0" text-anchor="end" font-weight="normal" stroke-width="0.12" >4</text>
<line x1="422.70" y1="182.68" x2="425.40" y2="182.68" stroke="#1e1e1e" stroke-width="0.9"/>
<text x="419.60" y="185.03" font-size="8.0" text-anchor="end" font-weight="normal" stroke-width="0.12" >3</text>
<line x1="422.70" y1="204.45" x2="425.40" y2="204.45" stroke="#1e1e1e" stroke-width="0.9"/>
<text x="419.60" y="206.80" font-size="8.0" text-anchor="end" font-weight="normal" stroke-width="0.12" >2</text>
<line x1="422.70" y1="226.22" x2="425.40" y2="226.22" stroke="#1e1e1e" stroke-width="0.9"/>
<text x="419.60" y="228.57" font-size="8.0" text-anchor="end" font-weight="normal" stroke-width="0.12" >1</text>
<line x1="422.70" y1="248.00" x2="425.40" y2="248.00" stroke="#1e1e1e" stroke-width="0.9"/>
<text x="419.60" y="250.35" font-size="8.0" text-anchor="end" font-weight="normal" stroke-width="0.12" >0</text>
<line x1="438.90" y1="248.00" x2="438.90" y2="250.20" stroke="#1e1e1e" stroke-width="0.9"/>
<line x1="458.90" y1="248.00" x2="458.90" y2="250.20" stroke="#1e1e1e" stroke-width="0.9"/>
<line x1="478.90" y1="248.00" x2="478.90" y2="250.20" stroke="#1e1e1e" stroke-width="0.9"/>
<line x1="498.90" y1="248.00" x2="498.90" y2="250.20" stroke="#1e1e1e" stroke-width="0.9"/>
<text x="423.60" y="260.60" font-size="8.2" text-anchor="end" font-weight="normal" stroke-width="0.12" >Hbb</text>
<text x="424.60" y="269.70" font-size="8.2" text-anchor="end" font-weight="normal" stroke-width="0.12" textLength="16.2" lengthAdjust="spacingAndGlyphs">Dmt1</text>
<text x="438.90" y="260.60" font-size="8.2" text-anchor="middle" font-weight="normal" stroke-width="0.12" >+/+</text>
<text x="438.90" y="269.70" font-size="8.2" text-anchor="middle" font-weight="normal" stroke-width="0.12" >+/+</text>
<text x="458.90" y="260.60" font-size="8.2" text-anchor="middle" font-weight="normal" stroke-width="0.12" >th3/+</text>
<text x="458.90" y="269.70" font-size="8.2" text-anchor="middle" font-weight="normal" stroke-width="0.12" >+/+</text>
<text x="478.90" y="260.60" font-size="8.2" text-anchor="middle" font-weight="normal" stroke-width="0.12" >th3/+</text>
<text x="478.90" y="269.70" font-size="8.2" text-anchor="middle" font-weight="normal" stroke-width="0.12" >int/+</text>
<text x="498.90" y="260.60" font-size="8.2" text-anchor="middle" font-weight="normal" stroke-width="0.12" >th3/+</text>
<text x="498.90" y="269.70" font-size="8.2" text-anchor="middle" font-weight="normal" stroke-width="0.12" textLength="18" lengthAdjust="spacingAndGlyphs">int/int</text>
<text x="0" y="0" font-size="8.2" text-anchor="middle" textLength="53.6" lengthAdjust="spacingAndGlyphs" stroke="#1c1c1c" stroke-width="0.32" transform="translate(411.10,202.80) rotate(-90)">Spleen weight (%)</text>
<text x="438.90" y="233.75" font-size="7.8" text-anchor="middle" font-weight="normal" stroke-width="0.15" style="fill:#333;stroke:#333">a</text>
<line x1="438.90" y1="240.00" x2="438.90" y2="241.50" stroke="#3a7cc4" stroke-width="0.7"/>
<line x1="435.50" y1="240.00" x2="442.30" y2="240.00" stroke="#3a7cc4" stroke-width="0.75"/>
<line x1="435.50" y1="241.50" x2="442.30" y2="241.50" stroke="#3a7cc4" stroke-width="0.75"/>
<line x1="432.30" y1="240.70" x2="445.50" y2="240.70" stroke="#3a7cc4" stroke-width="0.9"/>
<circle cx="433.90" cy="240.50" r="1.1" fill="#1b3f70"/>
<circle cx="435.90" cy="239.50" r="1.1" fill="#1b3f70"/>
<circle cx="437.90" cy="241.00" r="1.1" fill="#1b3f70"/>
<circle cx="439.90" cy="240.00" r="1.1" fill="#1b3f70"/>
<circle cx="441.90" cy="239.00" r="1.1" fill="#1b3f70"/>
<circle cx="443.90" cy="240.50" r="1.1" fill="#1b3f70"/>
<circle cx="438.90" cy="242.40" r="1.1" fill="#1b3f70"/>
<text x="458.90" y="189.70" font-size="7.8" text-anchor="middle" font-weight="normal" stroke-width="0.15" style="fill:#333;stroke:#333">b</text>
<line x1="458.90" y1="197.20" x2="458.90" y2="204.80" stroke="#e23a58" stroke-width="0.7"/>
<line x1="455.50" y1="197.20" x2="462.30" y2="197.20" stroke="#e23a58" stroke-width="0.75"/>
<line x1="455.50" y1="204.80" x2="462.30" y2="204.80" stroke="#e23a58" stroke-width="0.75"/>
<line x1="452.30" y1="201.20" x2="465.50" y2="201.20" stroke="#e23a58" stroke-width="0.9"/>
<circle cx="458.90" cy="193.70" r="1.1" fill="#a01c34"/>
<circle cx="453.60" cy="198.80" r="1.1" fill="#a01c34"/>
<circle cx="465.70" cy="200.80" r="1.1" fill="#a01c34"/>
<circle cx="453.60" cy="203.30" r="1.1" fill="#a01c34"/>
<path d="M458.90 202.40L460.32 205.03L457.47 205.03Z" fill="#a01c34"/>
<circle cx="465.70" cy="204.50" r="1.1" fill="#a01c34"/>
<circle cx="453.60" cy="205.70" r="1.1" fill="#a01c34"/>
<text x="478.90" y="179.30" font-size="7.8" text-anchor="middle" font-weight="normal" stroke-width="0.15" style="fill:#333;stroke:#333">b</text>
<line x1="478.90" y1="191.40" x2="478.90" y2="204.30" stroke="#46c466" stroke-width="0.7"/>
<line x1="475.50" y1="191.40" x2="482.30" y2="191.40" stroke="#46c466" stroke-width="0.75"/>
<line x1="475.50" y1="204.30" x2="482.30" y2="204.30" stroke="#46c466" stroke-width="0.75"/>
<line x1="472.30" y1="198.30" x2="485.50" y2="198.30" stroke="#46c466" stroke-width="0.9"/>
<path d="M478.90 182.40L480.32 185.03L477.47 185.03Z" fill="#23823f"/>
<circle cx="478.90" cy="193.20" r="1.1" fill="#23823f"/>
<circle cx="473.80" cy="197.70" r="1.1" fill="#23823f"/>
<circle cx="484.90" cy="197.20" r="1.1" fill="#23823f"/>
<circle cx="478.90" cy="198.60" r="1.1" fill="#23823f"/>
<circle cx="473.80" cy="200.80" r="1.1" fill="#23823f"/>
<circle cx="484.90" cy="200.80" r="1.1" fill="#23823f"/>
<path d="M478.90 202.80L480.32 205.43L477.47 205.43Z" fill="#23823f"/>
<path d="M478.90 206.40L480.32 209.03L477.47 209.03Z" fill="#23823f"/>
<text x="498.90" y="203.95" font-size="7.8" text-anchor="middle" font-weight="normal" stroke-width="0.15" style="fill:#333;stroke:#333">c</text>
<line x1="498.90" y1="213.70" x2="498.90" y2="230.30" stroke="#4c2a7a" stroke-width="0.7"/>
<line x1="495.50" y1="213.70" x2="502.30" y2="213.70" stroke="#4c2a7a" stroke-width="0.75"/>
<line x1="495.50" y1="230.30" x2="502.30" y2="230.30" stroke="#4c2a7a" stroke-width="0.75"/>
<line x1="492.30" y1="222.00" x2="505.50" y2="222.00" stroke="#4c2a7a" stroke-width="0.9"/>
<circle cx="498.90" cy="209.10" r="1.1" fill="#2e1a55"/>
<path d="M498.90 211.70L500.32 214.32L497.47 214.32Z" fill="#2e1a55"/>
<path d="M498.90 215.20L500.32 217.82L497.47 217.82Z" fill="#2e1a55"/>
<circle cx="498.90" cy="221.20" r="1.1" fill="#2e1a55"/>
<circle cx="498.90" cy="223.80" r="1.1" fill="#2e1a55"/>
<circle cx="493.90" cy="226.80" r="1.1" fill="#2e1a55"/>
<path d="M498.90 226.30L500.32 228.93L497.47 228.93Z" fill="#2e1a55"/>
<circle cx="504.90" cy="227.50" r="1.1" fill="#2e1a55"/>
<path d="M498.90 234.70L500.32 237.32L497.47 237.32Z" fill="#2e1a55"/>
<text x="12.00" y="291.10" font-size="11.0" text-anchor="middle" font-weight="bold" stroke-width="0.45" fill="#111" stroke="#111">I</text>
<line x1="34.50" y1="295.60" x2="34.50" y2="377.40" stroke="#1e1e1e" stroke-width="1.2"/>
<line x1="34.50" y1="381.60" x2="34.50" y2="386.10" stroke="#1e1e1e" stroke-width="1.2"/>
<line x1="32.90" y1="379.70" x2="36.30" y2="376.30" stroke="#1e1e1e" stroke-width="1.0"/>
<line x1="32.90" y1="383.10" x2="36.30" y2="379.90" stroke="#1e1e1e" stroke-width="1.0"/>
<line x1="33.90" y1="385.60" x2="122.50" y2="385.60" stroke="#1e1e1e" stroke-width="1.2"/>
<line x1="31.80" y1="298.70" x2="34.50" y2="298.70" stroke="#1e1e1e" stroke-width="0.9"/>
<text x="28.70" y="301.05" font-size="8.0" text-anchor="end" font-weight="normal" stroke-width="0.12" >40</text>
<line x1="31.80" y1="311.45" x2="34.50" y2="311.45" stroke="#1e1e1e" stroke-width="0.9"/>
<text x="28.70" y="313.80" font-size="8.0" text-anchor="end" font-weight="normal" stroke-width="0.12" >35</text>
<line x1="31.80" y1="324.20" x2="34.50" y2="324.20" stroke="#1e1e1e" stroke-width="0.9"/>
<text x="28.70" y="326.55" font-size="8.0" text-anchor="end" font-weight="normal" stroke-width="0.12" >30</text>
<line x1="31.80" y1="336.95" x2="34.50" y2="336.95" stroke="#1e1e1e" stroke-width="0.9"/>
<text x="28.70" y="339.30" font-size="8.0" text-anchor="end" font-weight="normal" stroke-width="0.12" >25</text>
<line x1="31.80" y1="349.70" x2="34.50" y2="349.70" stroke="#1e1e1e" stroke-width="0.9"/>
<text x="28.70" y="352.05" font-size="8.0" text-anchor="end" font-weight="normal" stroke-width="0.12" >20</text>
<line x1="31.80" y1="362.45" x2="34.50" y2="362.45" stroke="#1e1e1e" stroke-width="0.9"/>
<text x="28.70" y="364.80" font-size="8.0" text-anchor="end" font-weight="normal" stroke-width="0.12" >15</text>
<line x1="31.80" y1="375.20" x2="34.50" y2="375.20" stroke="#1e1e1e" stroke-width="0.9"/>
<text x="28.70" y="377.55" font-size="8.0" text-anchor="end" font-weight="normal" stroke-width="0.12" >10</text>
<line x1="31.80" y1="385.60" x2="34.50" y2="385.60" stroke="#1e1e1e" stroke-width="0.9"/>
<text x="28.70" y="387.95" font-size="8.0" text-anchor="end" font-weight="normal" stroke-width="0.12" >0</text>
<line x1="48.00" y1="385.60" x2="48.00" y2="387.80" stroke="#1e1e1e" stroke-width="0.9"/>
<line x1="68.00" y1="385.60" x2="68.00" y2="387.80" stroke="#1e1e1e" stroke-width="0.9"/>
<line x1="88.00" y1="385.60" x2="88.00" y2="387.80" stroke="#1e1e1e" stroke-width="0.9"/>
<line x1="108.00" y1="385.60" x2="108.00" y2="387.80" stroke="#1e1e1e" stroke-width="0.9"/>
<text x="32.70" y="398.20" font-size="8.2" text-anchor="end" font-weight="normal" stroke-width="0.12" >Hbb</text>
<text x="33.70" y="407.30" font-size="8.2" text-anchor="end" font-weight="normal" stroke-width="0.12" textLength="16.2" lengthAdjust="spacingAndGlyphs">Dmt1</text>
<text x="48.00" y="398.20" font-size="8.2" text-anchor="middle" font-weight="normal" stroke-width="0.12" >+/+</text>
<text x="48.00" y="407.30" font-size="8.2" text-anchor="middle" font-weight="normal" stroke-width="0.12" >+/+</text>
<text x="68.00" y="398.20" font-size="8.2" text-anchor="middle" font-weight="normal" stroke-width="0.12" >th3/+</text>
<text x="68.00" y="407.30" font-size="8.2" text-anchor="middle" font-weight="normal" stroke-width="0.12" >+/+</text>
<text x="88.00" y="398.20" font-size="8.2" text-anchor="middle" font-weight="normal" stroke-width="0.12" >th3/+</text>
<text x="88.00" y="407.30" font-size="8.2" text-anchor="middle" font-weight="normal" stroke-width="0.12" >int/+</text>
<text x="108.00" y="398.20" font-size="8.2" text-anchor="middle" font-weight="normal" stroke-width="0.12" >th3/+</text>
<text x="108.00" y="407.30" font-size="8.2" text-anchor="middle" font-weight="normal" stroke-width="0.12" textLength="18" lengthAdjust="spacingAndGlyphs">int/int</text>
<text x="0" y="0" font-size="8.2" text-anchor="middle" textLength="81.4" lengthAdjust="spacingAndGlyphs" stroke="#1c1c1c" stroke-width="0.32" transform="translate(15.40,340.50) rotate(-90)">Heart non-heme iron (µg/g)</text>
<text x="48.00" y="316.25" font-size="7.8" text-anchor="middle" font-weight="normal" stroke-width="0.15" style="fill:#333;stroke:#333">a</text>
<line x1="48.00" y1="328.80" x2="48.00" y2="347.20" stroke="#3a7cc4" stroke-width="0.7"/>
<line x1="44.60" y1="328.80" x2="51.40" y2="328.80" stroke="#3a7cc4" stroke-width="0.75"/>
<line x1="44.60" y1="347.20" x2="51.40" y2="347.20" stroke="#3a7cc4" stroke-width="0.75"/>
<line x1="41.40" y1="338.60" x2="54.60" y2="338.60" stroke="#3a7cc4" stroke-width="0.9"/>
<circle cx="48.00" cy="322.10" r="1.1" fill="#1b3f70"/>
<circle cx="48.00" cy="325.90" r="1.1" fill="#1b3f70"/>
<circle cx="48.00" cy="332.20" r="1.1" fill="#1b3f70"/>
<circle cx="48.00" cy="338.60" r="1.1" fill="#1b3f70"/>
<circle cx="42.40" cy="340.10" r="1.1" fill="#1b3f70"/>
<circle cx="53.40" cy="340.10" r="1.1" fill="#1b3f70"/>
<circle cx="48.00" cy="340.90" r="1.1" fill="#1b3f70"/>
<circle cx="48.00" cy="347.20" r="1.1" fill="#1b3f70"/>
<circle cx="43.00" cy="350.10" r="1.1" fill="#1b3f70"/>
<circle cx="53.40" cy="348.10" r="1.1" fill="#1b3f70"/>
<text x="68.00" y="315.55" font-size="7.8" text-anchor="middle" font-weight="normal" stroke-width="0.15" style="fill:#333;stroke:#333">a</text>
<line x1="68.00" y1="320.30" x2="68.00" y2="332.80" stroke="#e23a58" stroke-width="0.7"/>
<line x1="64.60" y1="320.30" x2="71.40" y2="320.30" stroke="#e23a58" stroke-width="0.75"/>
<line x1="64.60" y1="332.80" x2="71.40" y2="332.80" stroke="#e23a58" stroke-width="0.75"/>
<line x1="61.40" y1="326.60" x2="74.60" y2="326.60" stroke="#e23a58" stroke-width="0.9"/>
<circle cx="66.00" cy="319.90" r="1.1" fill="#a01c34"/>
<path d="M70.50 318.40L71.92 321.02L69.08 321.02Z" fill="#a01c34"/>
<path d="M66.00 321.70L67.42 324.32L64.58 324.32Z" fill="#a01c34"/>
<path d="M70.50 322.70L71.92 325.32L69.08 325.32Z" fill="#a01c34"/>
<circle cx="68.00" cy="326.80" r="1.1" fill="#a01c34"/>
<circle cx="68.00" cy="333.80" r="1.1" fill="#a01c34"/>
<circle cx="68.00" cy="337.20" r="1.1" fill="#a01c34"/>
<text x="88.00" y="310.75" font-size="7.8" text-anchor="middle" font-weight="normal" stroke-width="0.15" style="fill:#333;stroke:#333">a</text>
<line x1="88.00" y1="318.40" x2="88.00" y2="334.80" stroke="#46c466" stroke-width="0.7"/>
<line x1="84.60" y1="318.40" x2="91.40" y2="318.40" stroke="#46c466" stroke-width="0.75"/>
<line x1="84.60" y1="334.80" x2="91.40" y2="334.80" stroke="#46c466" stroke-width="0.75"/>
<line x1="81.40" y1="327.10" x2="94.60" y2="327.10" stroke="#46c466" stroke-width="0.9"/>
<path d="M88.00 314.50L89.42 317.12L86.58 317.12Z" fill="#23823f"/>
<circle cx="85.80" cy="318.90" r="1.1" fill="#23823f"/>
<circle cx="90.60" cy="318.40" r="1.1" fill="#23823f"/>
<circle cx="88.00" cy="323.20" r="1.1" fill="#23823f"/>
<circle cx="88.00" cy="327.10" r="1.1" fill="#23823f"/>
<path d="M90.60 331.20L92.02 333.82L89.17 333.82Z" fill="#23823f"/>
<circle cx="85.80" cy="334.30" r="1.1" fill="#23823f"/>
<circle cx="90.60" cy="335.30" r="1.1" fill="#23823f"/>
<circle cx="85.80" cy="336.70" r="1.1" fill="#23823f"/>
<text x="108.00" y="320.10" font-size="7.8" text-anchor="middle" font-weight="normal" stroke-width="0.15" style="fill:#333;stroke:#333">b</text>
<line x1="108.00" y1="336.30" x2="108.00" y2="368.80" stroke="#4c2a7a" stroke-width="0.7"/>
<line x1="104.60" y1="336.30" x2="111.40" y2="336.30" stroke="#4c2a7a" stroke-width="0.75"/>
<line x1="104.60" y1="368.80" x2="111.40" y2="368.80" stroke="#4c2a7a" stroke-width="0.75"/>
<line x1="101.40" y1="352.30" x2="114.60" y2="352.30" stroke="#4c2a7a" stroke-width="0.9"/>
<path d="M108.00 324.50L109.42 327.12L106.58 327.12Z" fill="#2e1a55"/>
<path d="M108.00 327.70L109.42 330.32L106.58 330.32Z" fill="#2e1a55"/>
<circle cx="108.00" cy="337.20" r="1.1" fill="#2e1a55"/>
<circle cx="103.00" cy="361.00" r="1.1" fill="#2e1a55"/>
<circle cx="108.00" cy="360.00" r="1.1" fill="#2e1a55"/>
<circle cx="112.00" cy="361.50" r="1.1" fill="#2e1a55"/>
<circle cx="103.00" cy="364.00" r="1.1" fill="#2e1a55"/>
<circle cx="107.00" cy="364.00" r="1.1" fill="#2e1a55"/>
<circle cx="113.00" cy="364.00" r="1.1" fill="#2e1a55"/>
<circle cx="108.00" cy="366.70" r="1.1" fill="#2e1a55"/>
<text x="135.80" y="291.10" font-size="11.0" text-anchor="middle" font-weight="bold" stroke-width="0.45" fill="#111" stroke="#111" textLength="4.8" lengthAdjust="spacingAndGlyphs">J</text>
<line x1="163.20" y1="295.60" x2="163.20" y2="386.10" stroke="#1e1e1e" stroke-width="1.2"/>
<line x1="162.60" y1="385.60" x2="251.20" y2="385.60" stroke="#1e1e1e" stroke-width="1.2"/>
<line x1="160.50" y1="298.60" x2="163.20" y2="298.60" stroke="#1e1e1e" stroke-width="0.9"/>
<text x="157.40" y="300.95" font-size="8.0" text-anchor="end" font-weight="normal" stroke-width="0.12" >2.0</text>
<line x1="160.50" y1="320.35" x2="163.20" y2="320.35" stroke="#1e1e1e" stroke-width="0.9"/>
<text x="157.40" y="322.70" font-size="8.0" text-anchor="end" font-weight="normal" stroke-width="0.12" >1.5</text>
<line x1="160.50" y1="342.10" x2="163.20" y2="342.10" stroke="#1e1e1e" stroke-width="0.9"/>
<text x="157.40" y="344.45" font-size="8.0" text-anchor="end" font-weight="normal" stroke-width="0.12" >1.0</text>
<line x1="160.50" y1="363.85" x2="163.20" y2="363.85" stroke="#1e1e1e" stroke-width="0.9"/>
<text x="157.40" y="366.20" font-size="8.0" text-anchor="end" font-weight="normal" stroke-width="0.12" >0.5</text>
<line x1="160.50" y1="385.60" x2="163.20" y2="385.60" stroke="#1e1e1e" stroke-width="0.9"/>
<text x="157.40" y="387.95" font-size="8.0" text-anchor="end" font-weight="normal" stroke-width="0.12" >0.0</text>
<line x1="176.70" y1="385.60" x2="176.70" y2="387.80" stroke="#1e1e1e" stroke-width="0.9"/>
<line x1="196.70" y1="385.60" x2="196.70" y2="387.80" stroke="#1e1e1e" stroke-width="0.9"/>
<line x1="216.70" y1="385.60" x2="216.70" y2="387.80" stroke="#1e1e1e" stroke-width="0.9"/>
<line x1="236.70" y1="385.60" x2="236.70" y2="387.80" stroke="#1e1e1e" stroke-width="0.9"/>
<text x="161.40" y="398.20" font-size="8.2" text-anchor="end" font-weight="normal" stroke-width="0.12" >Hbb</text>
<text x="162.40" y="407.30" font-size="8.2" text-anchor="end" font-weight="normal" stroke-width="0.12" textLength="16.2" lengthAdjust="spacingAndGlyphs">Dmt1</text>
<text x="176.70" y="398.20" font-size="8.2" text-anchor="middle" font-weight="normal" stroke-width="0.12" >+/+</text>
<text x="176.70" y="407.30" font-size="8.2" text-anchor="middle" font-weight="normal" stroke-width="0.12" >+/+</text>
<text x="196.70" y="398.20" font-size="8.2" text-anchor="middle" font-weight="normal" stroke-width="0.12" >th3/+</text>
<text x="196.70" y="407.30" font-size="8.2" text-anchor="middle" font-weight="normal" stroke-width="0.12" >+/+</text>
<text x="216.70" y="398.20" font-size="8.2" text-anchor="middle" font-weight="normal" stroke-width="0.12" >th3/+</text>
<text x="216.70" y="407.30" font-size="8.2" text-anchor="middle" font-weight="normal" stroke-width="0.12" >int/+</text>
<text x="236.70" y="398.20" font-size="8.2" text-anchor="middle" font-weight="normal" stroke-width="0.12" >th3/+</text>
<text x="236.70" y="407.30" font-size="8.2" text-anchor="middle" font-weight="normal" stroke-width="0.12" textLength="18" lengthAdjust="spacingAndGlyphs">int/int</text>
<text x="0" y="0" font-size="8.2" text-anchor="middle" textLength="48.0" lengthAdjust="spacingAndGlyphs" stroke="#1c1c1c" stroke-width="0.32" transform="translate(140.90,341.60) rotate(-90)">Heart weight (%)</text>
<text x="176.70" y="353.55" font-size="7.8" text-anchor="middle" font-weight="normal" stroke-width="0.15" style="fill:#333;stroke:#333">a</text>
<line x1="176.70" y1="359.50" x2="176.70" y2="363.30" stroke="#3a7cc4" stroke-width="0.7"/>
<line x1="173.30" y1="359.50" x2="180.10" y2="359.50" stroke="#3a7cc4" stroke-width="0.75"/>
<line x1="173.30" y1="363.30" x2="180.10" y2="363.30" stroke="#3a7cc4" stroke-width="0.75"/>
<line x1="170.10" y1="361.40" x2="183.30" y2="361.40" stroke="#3a7cc4" stroke-width="0.9"/>
<circle cx="171.70" cy="359.00" r="1.1" fill="#1b3f70"/>
<circle cx="174.70" cy="358.80" r="1.1" fill="#1b3f70"/>
<circle cx="177.70" cy="359.50" r="1.1" fill="#1b3f70"/>
<circle cx="180.70" cy="360.00" r="1.1" fill="#1b3f70"/>
<circle cx="172.70" cy="362.00" r="1.1" fill="#1b3f70"/>
<circle cx="176.70" cy="361.50" r="1.1" fill="#1b3f70"/>
<circle cx="180.70" cy="362.50" r="1.1" fill="#1b3f70"/>
<circle cx="173.70" cy="364.30" r="1.1" fill="#1b3f70"/>
<circle cx="178.70" cy="364.00" r="1.1" fill="#1b3f70"/>
<circle cx="181.70" cy="364.30" r="1.1" fill="#1b3f70"/>
<text x="196.70" y="342.50" font-size="7.8" text-anchor="middle" font-weight="normal" stroke-width="0.15" style="fill:#333;stroke:#333">b</text>
<line x1="196.70" y1="352.00" x2="196.70" y2="357.00" stroke="#e23a58" stroke-width="0.7"/>
<line x1="193.30" y1="352.00" x2="200.10" y2="352.00" stroke="#e23a58" stroke-width="0.75"/>
<line x1="193.30" y1="357.00" x2="200.10" y2="357.00" stroke="#e23a58" stroke-width="0.75"/>
<line x1="190.10" y1="354.70" x2="203.30" y2="354.70" stroke="#e23a58" stroke-width="0.9"/>
<circle cx="196.70" cy="347.50" r="1.1" fill="#a01c34"/>
<circle cx="191.70" cy="355.00" r="1.1" fill="#a01c34"/>
<circle cx="194.70" cy="355.00" r="1.1" fill="#a01c34"/>
<circle cx="197.70" cy="355.00" r="1.1" fill="#a01c34"/>
<circle cx="200.70" cy="355.00" r="1.1" fill="#a01c34"/>
<circle cx="193.70" cy="356.40" r="1.1" fill="#a01c34"/>
<circle cx="199.70" cy="356.40" r="1.1" fill="#a01c34"/>
<text x="216.70" y="347.80" font-size="7.8" text-anchor="middle" font-weight="normal" stroke-width="0.15" style="fill:#333;stroke:#333">b</text>
<line x1="216.70" y1="352.50" x2="216.70" y2="356.50" stroke="#46c466" stroke-width="0.7"/>
<line x1="213.30" y1="352.50" x2="220.10" y2="352.50" stroke="#46c466" stroke-width="0.75"/>
<line x1="213.30" y1="356.50" x2="220.10" y2="356.50" stroke="#46c466" stroke-width="0.75"/>
<line x1="210.10" y1="354.70" x2="223.30" y2="354.70" stroke="#46c466" stroke-width="0.9"/>
<circle cx="211.70" cy="353.00" r="1.1" fill="#23823f"/>
<circle cx="214.70" cy="352.30" r="1.1" fill="#23823f"/>
<circle cx="218.70" cy="352.30" r="1.1" fill="#23823f"/>
<circle cx="221.70" cy="353.00" r="1.1" fill="#23823f"/>
<circle cx="212.70" cy="356.00" r="1.1" fill="#23823f"/>
<circle cx="216.70" cy="355.50" r="1.1" fill="#23823f"/>
<circle cx="220.70" cy="356.00" r="1.1" fill="#23823f"/>
<circle cx="216.70" cy="357.80" r="1.1" fill="#23823f"/>
<text x="236.70" y="303.95" font-size="7.8" text-anchor="middle" font-weight="normal" stroke-width="0.15" style="fill:#333;stroke:#333">c</text>
<line x1="236.70" y1="317.80" x2="236.70" y2="342.00" stroke="#4c2a7a" stroke-width="0.7"/>
<line x1="233.30" y1="317.80" x2="240.10" y2="317.80" stroke="#4c2a7a" stroke-width="0.75"/>
<line x1="233.30" y1="342.00" x2="240.10" y2="342.00" stroke="#4c2a7a" stroke-width="0.75"/>
<line x1="230.10" y1="330.50" x2="243.30" y2="330.50" stroke="#4c2a7a" stroke-width="0.9"/>
<path d="M236.70 308.00L238.12 310.62L235.27 310.62Z" fill="#2e1a55"/>
<path d="M236.70 311.50L238.12 314.12L235.27 314.12Z" fill="#2e1a55"/>
<path d="M236.70 321.30L238.12 323.93L235.27 323.93Z" fill="#2e1a55"/>
<circle cx="236.70" cy="331.70" r="1.1" fill="#2e1a55"/>
<circle cx="231.20" cy="337.80" r="1.1" fill="#2e1a55"/>
<circle cx="231.20" cy="341.30" r="1.1" fill="#2e1a55"/>
<circle cx="235.20" cy="339.00" r="1.1" fill="#2e1a55"/>
<path d="M238.70 339.80L240.12 342.43L237.27 342.43Z" fill="#2e1a55"/>
<circle cx="242.90" cy="339.80" r="1.1" fill="#2e1a55"/>
<text x="263.50" y="291.10" font-size="11.0" text-anchor="middle" font-weight="bold" stroke-width="0.45" fill="#111" stroke="#111">K</text>
<line x1="290.20" y1="295.60" x2="290.20" y2="376.50" stroke="#1e1e1e" stroke-width="1.2"/>
<line x1="290.20" y1="380.70" x2="290.20" y2="386.10" stroke="#1e1e1e" stroke-width="1.2"/>
<line x1="288.60" y1="378.80" x2="292.00" y2="375.40" stroke="#1e1e1e" stroke-width="1.0"/>
<line x1="288.60" y1="382.20" x2="292.00" y2="379.00" stroke="#1e1e1e" stroke-width="1.0"/>
<line x1="289.60" y1="385.60" x2="378.20" y2="385.60" stroke="#1e1e1e" stroke-width="1.2"/>
<line x1="287.50" y1="298.70" x2="290.20" y2="298.70" stroke="#1e1e1e" stroke-width="0.9"/>
<text x="284.40" y="301.05" font-size="8.0" text-anchor="end" font-weight="normal" stroke-width="0.12" >110</text>
<line x1="287.50" y1="312.60" x2="290.20" y2="312.60" stroke="#1e1e1e" stroke-width="0.9"/>
<text x="284.40" y="314.95" font-size="8.0" text-anchor="end" font-weight="normal" stroke-width="0.12" >100</text>
<line x1="287.50" y1="326.60" x2="290.20" y2="326.60" stroke="#1e1e1e" stroke-width="0.9"/>
<text x="284.40" y="328.95" font-size="8.0" text-anchor="end" font-weight="normal" stroke-width="0.12" >90</text>
<line x1="287.50" y1="340.50" x2="290.20" y2="340.50" stroke="#1e1e1e" stroke-width="0.9"/>
<text x="284.40" y="342.85" font-size="8.0" text-anchor="end" font-weight="normal" stroke-width="0.12" >80</text>
<line x1="287.50" y1="354.50" x2="290.20" y2="354.50" stroke="#1e1e1e" stroke-width="0.9"/>
<text x="284.40" y="356.85" font-size="8.0" text-anchor="end" font-weight="normal" stroke-width="0.12" >70</text>
<line x1="287.50" y1="368.40" x2="290.20" y2="368.40" stroke="#1e1e1e" stroke-width="0.9"/>
<text x="284.40" y="370.75" font-size="8.0" text-anchor="end" font-weight="normal" stroke-width="0.12" >60</text>
<line x1="287.50" y1="385.60" x2="290.20" y2="385.60" stroke="#1e1e1e" stroke-width="0.9"/>
<text x="284.40" y="387.95" font-size="8.0" text-anchor="end" font-weight="normal" stroke-width="0.12" >0</text>
<line x1="303.70" y1="385.60" x2="303.70" y2="387.80" stroke="#1e1e1e" stroke-width="0.9"/>
<line x1="323.70" y1="385.60" x2="323.70" y2="387.80" stroke="#1e1e1e" stroke-width="0.9"/>
<line x1="343.70" y1="385.60" x2="343.70" y2="387.80" stroke="#1e1e1e" stroke-width="0.9"/>
<line x1="363.70" y1="385.60" x2="363.70" y2="387.80" stroke="#1e1e1e" stroke-width="0.9"/>
<text x="288.40" y="398.20" font-size="8.2" text-anchor="end" font-weight="normal" stroke-width="0.12" >Hbb</text>
<text x="289.40" y="407.30" font-size="8.2" text-anchor="end" font-weight="normal" stroke-width="0.12" textLength="16.2" lengthAdjust="spacingAndGlyphs">Dmt1</text>
<text x="303.70" y="398.20" font-size="8.2" text-anchor="middle" font-weight="normal" stroke-width="0.12" >+/+</text>
<text x="303.70" y="407.30" font-size="8.2" text-anchor="middle" font-weight="normal" stroke-width="0.12" >+/+</text>
<text x="323.70" y="398.20" font-size="8.2" text-anchor="middle" font-weight="normal" stroke-width="0.12" >th3/+</text>
<text x="323.70" y="407.30" font-size="8.2" text-anchor="middle" font-weight="normal" stroke-width="0.12" >+/+</text>
<text x="343.70" y="398.20" font-size="8.2" text-anchor="middle" font-weight="normal" stroke-width="0.12" >th3/+</text>
<text x="343.70" y="407.30" font-size="8.2" text-anchor="middle" font-weight="normal" stroke-width="0.12" >int/+</text>
<text x="363.70" y="398.20" font-size="8.2" text-anchor="middle" font-weight="normal" stroke-width="0.12" >th3/+</text>
<text x="363.70" y="407.30" font-size="8.2" text-anchor="middle" font-weight="normal" stroke-width="0.12" textLength="18" lengthAdjust="spacingAndGlyphs">int/int</text>
<text x="0" y="0" font-size="8.2" text-anchor="middle" textLength="70.2" lengthAdjust="spacingAndGlyphs" stroke="#1c1c1c" stroke-width="0.32" transform="translate(266.40,338.90) rotate(-90)">Serum hepcidin (ng/ml)</text>
<text x="303.70" y="336.55" font-size="7.8" text-anchor="middle" font-weight="normal" stroke-width="0.15" style="fill:#333;stroke:#333">a</text>
<line x1="303.70" y1="345.00" x2="303.70" y2="354.80" stroke="#3a7cc4" stroke-width="0.7"/>
<line x1="300.30" y1="345.00" x2="307.10" y2="345.00" stroke="#3a7cc4" stroke-width="0.75"/>
<line x1="300.30" y1="354.80" x2="307.10" y2="354.80" stroke="#3a7cc4" stroke-width="0.75"/>
<line x1="297.10" y1="350.50" x2="310.30" y2="350.50" stroke="#3a7cc4" stroke-width="0.9"/>
<circle cx="301.90" cy="341.50" r="1.1" fill="#1b3f70"/>
<circle cx="306.10" cy="341.00" r="1.1" fill="#1b3f70"/>
<path d="M303.70 341.90L305.12 344.52L302.27 344.52Z" fill="#1b3f70"/>
<circle cx="298.30" cy="350.80" r="1.1" fill="#1b3f70"/>
<circle cx="301.30" cy="349.00" r="1.1" fill="#1b3f70"/>
<circle cx="303.70" cy="350.50" r="1.1" fill="#1b3f70"/>
<circle cx="306.70" cy="349.80" r="1.1" fill="#1b3f70"/>
<circle cx="309.50" cy="351.30" r="1.1" fill="#1b3f70"/>
<circle cx="301.90" cy="353.60" r="1.1" fill="#1b3f70"/>
<circle cx="306.10" cy="354.20" r="1.1" fill="#1b3f70"/>
<circle cx="303.70" cy="360.90" r="1.1" fill="#1b3f70"/>
<text x="323.70" y="354.60" font-size="7.8" text-anchor="middle" font-weight="normal" stroke-width="0.15" style="fill:#333;stroke:#333">b</text>
<line x1="323.70" y1="361.70" x2="323.70" y2="368.60" stroke="#e23a58" stroke-width="0.7"/>
<line x1="320.30" y1="361.70" x2="327.10" y2="361.70" stroke="#e23a58" stroke-width="0.75"/>
<line x1="320.30" y1="368.60" x2="327.10" y2="368.60" stroke="#e23a58" stroke-width="0.75"/>
<line x1="317.10" y1="366.30" x2="330.30" y2="366.30" stroke="#e23a58" stroke-width="0.9"/>
<path d="M323.70 358.70L325.12 361.32L322.27 361.32Z" fill="#a01c34"/>
<circle cx="318.20" cy="364.00" r="1.1" fill="#a01c34"/>
<circle cx="323.70" cy="364.60" r="1.1" fill="#a01c34"/>
<path d="M329.80 362.50L331.23 365.12L328.38 365.12Z" fill="#a01c34"/>
<circle cx="321.10" cy="370.10" r="1.1" fill="#a01c34"/>
<path d="M326.90 368.90L328.32 371.52L325.47 371.52Z" fill="#a01c34"/>
<circle cx="323.70" cy="373.60" r="1.1" fill="#a01c34"/>
<text x="343.70" y="346.00" font-size="7.8" text-anchor="middle" font-weight="normal" stroke-width="0.15" style="fill:#333;stroke:#333">b</text>
<line x1="343.70" y1="354.20" x2="343.70" y2="362.90" stroke="#46c466" stroke-width="0.7"/>
<line x1="340.30" y1="354.20" x2="347.10" y2="354.20" stroke="#46c466" stroke-width="0.75"/>
<line x1="340.30" y1="362.90" x2="347.10" y2="362.90" stroke="#46c466" stroke-width="0.75"/>
<line x1="337.10" y1="358.30" x2="350.30" y2="358.30" stroke="#46c466" stroke-width="0.9"/>
<circle cx="343.70" cy="351.30" r="1.1" fill="#23823f"/>
<circle cx="338.50" cy="357.50" r="1.1" fill="#23823f"/>
<circle cx="341.30" cy="357.80" r="1.1" fill="#23823f"/>
<circle cx="343.70" cy="357.80" r="1.1" fill="#23823f"/>
<circle cx="347.00" cy="357.50" r="1.1" fill="#23823f"/>
<circle cx="349.80" cy="357.50" r="1.1" fill="#23823f"/>
<circle cx="349.80" cy="360.90" r="1.1" fill="#23823f"/>
<circle cx="341.30" cy="363.40" r="1.1" fill="#23823f"/>
<circle cx="345.90" cy="363.40" r="1.1" fill="#23823f"/>
<circle cx="343.70" cy="366.90" r="1.1" fill="#23823f"/>
<text x="363.70" y="309.85" font-size="7.8" text-anchor="middle" font-weight="normal" stroke-width="0.15" style="fill:#333;stroke:#333">c</text>
<line x1="363.70" y1="322.80" x2="363.70" y2="347.30" stroke="#4c2a7a" stroke-width="0.7"/>
<line x1="360.30" y1="322.80" x2="367.10" y2="322.80" stroke="#4c2a7a" stroke-width="0.75"/>
<line x1="360.30" y1="347.30" x2="367.10" y2="347.30" stroke="#4c2a7a" stroke-width="0.75"/>
<line x1="357.10" y1="335.10" x2="370.30" y2="335.10" stroke="#4c2a7a" stroke-width="0.9"/>
<circle cx="363.70" cy="314.40" r="1.1" fill="#2e1a55"/>
<path d="M363.70 322.30L365.12 324.93L362.27 324.93Z" fill="#2e1a55"/>
<circle cx="363.70" cy="328.90" r="1.1" fill="#2e1a55"/>
<circle cx="363.70" cy="331.70" r="1.1" fill="#2e1a55"/>
<circle cx="363.70" cy="334.30" r="1.1" fill="#2e1a55"/>
<circle cx="363.70" cy="338.20" r="1.1" fill="#2e1a55"/>
<path d="M363.70 344.70L365.12 347.32L362.27 347.32Z" fill="#2e1a55"/>
<circle cx="363.70" cy="349.80" r="1.1" fill="#2e1a55"/>
<circle cx="363.70" cy="352.70" r="1.1" fill="#2e1a55"/>
<text x="394.40" y="291.10" font-size="11.0" text-anchor="middle" font-weight="bold" stroke-width="0.45" fill="#111" stroke="#111">L</text>
<line x1="425.40" y1="295.60" x2="425.40" y2="376.50" stroke="#1e1e1e" stroke-width="1.2"/>
<line x1="425.40" y1="380.70" x2="425.40" y2="386.10" stroke="#1e1e1e" stroke-width="1.2"/>
<line x1="423.80" y1="378.80" x2="427.20" y2="375.40" stroke="#1e1e1e" stroke-width="1.0"/>
<line x1="423.80" y1="382.20" x2="427.20" y2="379.00" stroke="#1e1e1e" stroke-width="1.0"/>
<line x1="424.80" y1="385.60" x2="513.40" y2="385.60" stroke="#1e1e1e" stroke-width="1.2"/>
<line x1="422.70" y1="298.70" x2="425.40" y2="298.70" stroke="#1e1e1e" stroke-width="0.9"/>
<text x="419.60" y="301.05" font-size="8.0" text-anchor="end" font-weight="normal" stroke-width="0.12" >2500</text>
<line x1="422.70" y1="320.10" x2="425.40" y2="320.10" stroke="#1e1e1e" stroke-width="0.9"/>
<text x="419.60" y="322.45" font-size="8.0" text-anchor="end" font-weight="normal" stroke-width="0.12" >2000</text>
<line x1="422.70" y1="341.50" x2="425.40" y2="341.50" stroke="#1e1e1e" stroke-width="0.9"/>
<text x="419.60" y="343.85" font-size="8.0" text-anchor="end" font-weight="normal" stroke-width="0.12" >1500</text>
<line x1="422.70" y1="362.80" x2="425.40" y2="362.80" stroke="#1e1e1e" stroke-width="0.9"/>
<text x="419.60" y="365.15" font-size="8.0" text-anchor="end" font-weight="normal" stroke-width="0.12" >1000</text>
<line x1="422.70" y1="385.60" x2="425.40" y2="385.60" stroke="#1e1e1e" stroke-width="0.9"/>
<text x="419.60" y="387.95" font-size="8.0" text-anchor="end" font-weight="normal" stroke-width="0.12" >0</text>
<line x1="438.90" y1="385.60" x2="438.90" y2="387.80" stroke="#1e1e1e" stroke-width="0.9"/>
<line x1="458.90" y1="385.60" x2="458.90" y2="387.80" stroke="#1e1e1e" stroke-width="0.9"/>
<line x1="478.90" y1="385.60" x2="478.90" y2="387.80" stroke="#1e1e1e" stroke-width="0.9"/>
<line x1="498.90" y1="385.60" x2="498.90" y2="387.80" stroke="#1e1e1e" stroke-width="0.9"/>
<text x="423.60" y="398.20" font-size="8.2" text-anchor="end" font-weight="normal" stroke-width="0.12" >Hbb</text>
<text x="424.60" y="407.30" font-size="8.2" text-anchor="end" font-weight="normal" stroke-width="0.12" textLength="16.2" lengthAdjust="spacingAndGlyphs">Dmt1</text>
<text x="438.90" y="398.20" font-size="8.2" text-anchor="middle" font-weight="normal" stroke-width="0.12" >+/+</text>
<text x="438.90" y="407.30" font-size="8.2" text-anchor="middle" font-weight="normal" stroke-width="0.12" >+/+</text>
<text x="458.90" y="398.20" font-size="8.2" text-anchor="middle" font-weight="normal" stroke-width="0.12" >th3/+</text>
<text x="458.90" y="407.30" font-size="8.2" text-anchor="middle" font-weight="normal" stroke-width="0.12" >+/+</text>
<text x="478.90" y="398.20" font-size="8.2" text-anchor="middle" font-weight="normal" stroke-width="0.12" >th3/+</text>
<text x="478.90" y="407.30" font-size="8.2" text-anchor="middle" font-weight="normal" stroke-width="0.12" >int/+</text>
<text x="498.90" y="398.20" font-size="8.2" text-anchor="middle" font-weight="normal" stroke-width="0.12" >th3/+</text>
<text x="498.90" y="407.30" font-size="8.2" text-anchor="middle" font-weight="normal" stroke-width="0.12" textLength="18" lengthAdjust="spacingAndGlyphs">int/int</text>
<text x="0" y="0" font-size="8.2" text-anchor="middle" textLength="67.2" lengthAdjust="spacingAndGlyphs" stroke="#1c1c1c" stroke-width="0.32" transform="translate(397.10,340.40) rotate(-90)">Serum ferritin (ng/ml)</text>
<text x="438.90" y="352.75" font-size="7.8" text-anchor="middle" font-weight="normal" stroke-width="0.15" style="fill:#333;stroke:#333">a</text>
<line x1="438.90" y1="364.80" x2="438.90" y2="373.50" stroke="#3a7cc4" stroke-width="0.7"/>
<line x1="435.50" y1="364.80" x2="442.30" y2="364.80" stroke="#3a7cc4" stroke-width="0.75"/>
<line x1="435.50" y1="373.50" x2="442.30" y2="373.50" stroke="#3a7cc4" stroke-width="0.75"/>
<line x1="432.30" y1="370.20" x2="445.50" y2="370.20" stroke="#3a7cc4" stroke-width="0.9"/>
<circle cx="438.90" cy="357.10" r="1.1" fill="#1b3f70"/>
<circle cx="433.60" cy="368.90" r="1.1" fill="#1b3f70"/>
<circle cx="436.30" cy="368.30" r="1.1" fill="#1b3f70"/>
<circle cx="438.90" cy="367.80" r="1.1" fill="#1b3f70"/>
<circle cx="441.20" cy="369.20" r="1.1" fill="#1b3f70"/>
<circle cx="444.40" cy="372.20" r="1.1" fill="#1b3f70"/>
<circle cx="434.70" cy="371.90" r="1.1" fill="#1b3f70"/>
<circle cx="438.00" cy="372.40" r="1.1" fill="#1b3f70"/>
<circle cx="436.90" cy="375.10" r="1.1" fill="#1b3f70"/>
<circle cx="441.20" cy="374.60" r="1.1" fill="#1b3f70"/>
<text x="458.90" y="308.10" font-size="7.8" text-anchor="middle" font-weight="normal" stroke-width="0.15" style="fill:#333;stroke:#333">b</text>
<line x1="458.90" y1="320.30" x2="458.90" y2="337.90" stroke="#e23a58" stroke-width="0.7"/>
<line x1="455.50" y1="320.30" x2="462.30" y2="320.30" stroke="#e23a58" stroke-width="0.75"/>
<line x1="455.50" y1="337.90" x2="462.30" y2="337.90" stroke="#e23a58" stroke-width="0.75"/>
<line x1="452.30" y1="329.70" x2="465.50" y2="329.70" stroke="#e23a58" stroke-width="0.9"/>
<circle cx="458.90" cy="311.60" r="1.1" fill="#a01c34"/>
<path d="M458.90 321.00L460.32 323.62L457.47 323.62Z" fill="#a01c34"/>
<circle cx="456.70" cy="333.00" r="1.1" fill="#a01c34"/>
<circle cx="461.10" cy="333.00" r="1.1" fill="#a01c34"/>
<path d="M456.70 334.70L458.12 337.32L455.27 337.32Z" fill="#a01c34"/>
<circle cx="461.10" cy="336.20" r="1.1" fill="#a01c34"/>
<circle cx="456.70" cy="339.00" r="1.1" fill="#a01c34"/>
<circle cx="461.10" cy="338.60" r="1.1" fill="#a01c34"/>
<text x="478.90" y="315.40" font-size="7.8" text-anchor="middle" font-weight="normal" stroke-width="0.15" style="fill:#333;stroke:#333">b</text>
<line x1="478.90" y1="325.20" x2="478.90" y2="338.50" stroke="#46c466" stroke-width="0.7"/>
<line x1="475.50" y1="325.20" x2="482.30" y2="325.20" stroke="#46c466" stroke-width="0.75"/>
<line x1="475.50" y1="338.50" x2="482.30" y2="338.50" stroke="#46c466" stroke-width="0.75"/>
<line x1="472.30" y1="331.50" x2="485.50" y2="331.50" stroke="#46c466" stroke-width="0.9"/>
<circle cx="478.90" cy="320.90" r="1.1" fill="#23823f"/>
<circle cx="478.90" cy="326.20" r="1.1" fill="#23823f"/>
<circle cx="485.20" cy="324.80" r="1.1" fill="#23823f"/>
<circle cx="473.70" cy="332.00" r="1.1" fill="#23823f"/>
<circle cx="479.40" cy="332.40" r="1.1" fill="#23823f"/>
<circle cx="485.20" cy="332.20" r="1.1" fill="#23823f"/>
<circle cx="479.40" cy="333.90" r="1.1" fill="#23823f"/>
<path d="M473.70 338.20L475.12 340.82L472.27 340.82Z" fill="#23823f"/>
<circle cx="485.20" cy="339.20" r="1.1" fill="#23823f"/>
<text x="498.90" y="322.25" font-size="7.8" text-anchor="middle" font-weight="normal" stroke-width="0.15" style="fill:#333;stroke:#333">c</text>
<line x1="498.90" y1="341.40" x2="498.90" y2="365.90" stroke="#4c2a7a" stroke-width="0.7"/>
<line x1="495.50" y1="341.40" x2="502.30" y2="341.40" stroke="#4c2a7a" stroke-width="0.75"/>
<line x1="495.50" y1="365.90" x2="502.30" y2="365.90" stroke="#4c2a7a" stroke-width="0.75"/>
<line x1="492.30" y1="353.60" x2="505.50" y2="353.60" stroke="#4c2a7a" stroke-width="0.9"/>
<path d="M498.90 326.70L500.32 329.32L497.47 329.32Z" fill="#2e1a55"/>
<circle cx="496.70" cy="347.10" r="1.1" fill="#2e1a55"/>
<circle cx="502.60" cy="348.20" r="1.1" fill="#2e1a55"/>
<circle cx="498.90" cy="353.60" r="1.1" fill="#2e1a55"/>
<circle cx="496.70" cy="358.00" r="1.1" fill="#2e1a55"/>
<circle cx="502.60" cy="359.00" r="1.1" fill="#2e1a55"/>
<circle cx="498.90" cy="362.00" r="1.1" fill="#2e1a55"/>
<path d="M498.90 369.50L500.32 372.12L497.47 372.12Z" fill="#2e1a55"/>
</g>
</svg></body></html>
